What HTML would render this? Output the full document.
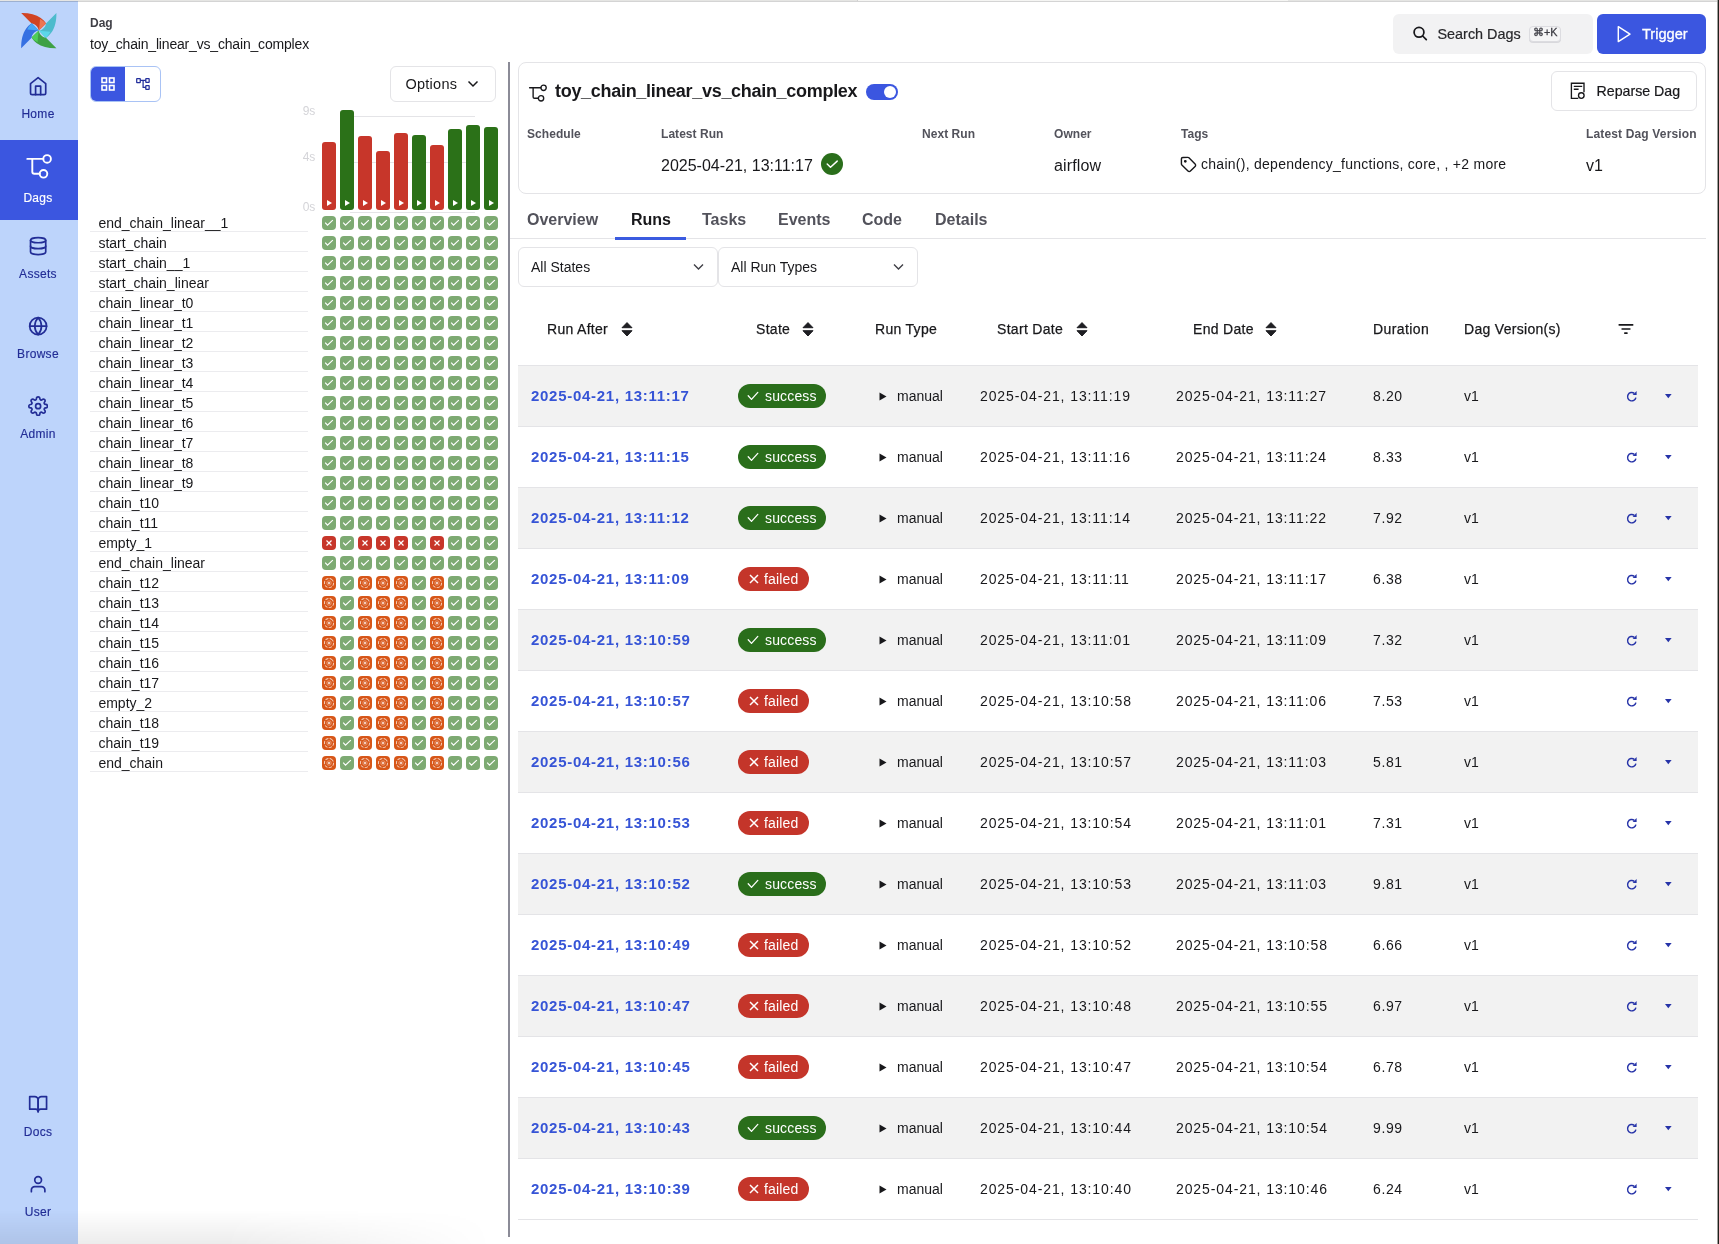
<!DOCTYPE html><html><head><meta charset="utf-8"><title>Airflow</title><style>
*{box-sizing:border-box;margin:0;padding:0}
html,body{width:1719px;height:1244px;overflow:hidden;background:#fff;font-family:"Liberation Sans", sans-serif;color:#18181b}
body{will-change:transform;position:relative}
.a{position:absolute}
.t{position:absolute;white-space:nowrap;line-height:20px;height:20px}
.topbar{position:absolute;left:0;top:0;width:1719px;height:1px;background:#e5e5e3}
.topbar2{position:absolute;left:0;top:1px;width:1719px;height:1px;background:rgba(0,0,0,.17)}
.sb{position:absolute;left:0;top:0;width:78px;height:1244px;background:#bdd4fb}
.nav{position:absolute;left:0;width:78px;height:80px;color:#222d96}
.nav .lbl{position:absolute;left:0;width:76px;text-align:center;font-size:12px;line-height:14px;height:14px;letter-spacing:0.3px;-webkit-text-stroke:0.15px currentColor}
.nav svg{position:absolute}
.nav.act{background:#3b56e0;color:#fff}
.cell{position:absolute;width:14px;height:14px;border-radius:4px}
.s{background:#7daa72}
.f{background:#c7362a}
.u{background:#d75618}
.rowline{position:absolute;left:90px;width:218px;height:1px;background:#ececef}
.tname{position:absolute;left:98.4px;font-size:14px;line-height:20px;height:20px;white-space:nowrap;color:#18181b}
.bar{position:absolute;width:14px;border-radius:3px}
.card{position:absolute;border:1px solid #e4e4e7;border-radius:8px}
.lbl12{position:absolute;font-size:12px;font-weight:bold;color:#52525b;line-height:16px;white-space:nowrap}
.tab{position:absolute;top:210px;font-size:16px;font-weight:bold;color:#52525b;line-height:20px;white-space:nowrap}
.tr{position:absolute;left:518px;width:1180px;height:61px;border-bottom:1px solid #e4e4e7}
.tr.g{background:#f2f2f2}
.td{position:absolute;top:20px;line-height:20px;height:20px;font-size:14px;white-space:nowrap;color:#18181b}
.lnk{color:#3654d6;font-weight:bold;letter-spacing:0.72px;font-size:15px}
.badge{position:absolute;top:18px;height:24px;border-radius:12px;color:#fff;font-size:14px;line-height:24px;white-space:nowrap}
.bs{background:#2a6e1b}
.bf{background:#c4352a}
.th{position:absolute;top:319px;line-height:20px;font-size:14px;white-space:nowrap;color:#18181b;-webkit-text-stroke:0.25px #18181b}
</style></head><body>
<div class="sb"></div>
<svg class="a" style="left:18px;top:10px" width="42" height="42" viewBox="-20.8 -20.6 42 42"><g transform="rotate(0)"><path d="M-17.6 -17.6C-10 -17.8 -3 -16.2 2 -12.6C4.6 -10.7 6.3 -8.8 7.3 -7L0 0C-0.3 -3.5 -3.5 -6.8 -7.2 -7.2Z" fill="#d14423"/><path d="M1.2 -11.6C3.8 -10.2 6 -8.6 7.3 -7L0 0C0.6 -3.5 0.9 -7.5 1.2 -11.6Z" fill="#ee7653"/></g><g transform="rotate(90)"><path d="M-17.6 -17.6C-10 -17.8 -3 -16.2 2 -12.6C4.6 -10.7 6.3 -8.8 7.3 -7L0 0C-0.3 -3.5 -3.5 -6.8 -7.2 -7.2Z" fill="#4dbbcc"/><path d="M1.2 -11.6C3.8 -10.2 6 -8.6 7.3 -7L0 0C0.6 -3.5 0.9 -7.5 1.2 -11.6Z" fill="#5bd7ea"/></g><g transform="rotate(180)"><path d="M-17.6 -17.6C-10 -17.8 -3 -16.2 2 -12.6C4.6 -10.7 6.3 -8.8 7.3 -7L0 0C-0.3 -3.5 -3.5 -6.8 -7.2 -7.2Z" fill="#3ea145"/><path d="M1.2 -11.6C3.8 -10.2 6 -8.6 7.3 -7L0 0C0.6 -3.5 0.9 -7.5 1.2 -11.6Z" fill="#4fcd59"/></g><g transform="rotate(270)"><path d="M-17.6 -17.6C-10 -17.8 -3 -16.2 2 -12.6C4.6 -10.7 6.3 -8.8 7.3 -7L0 0C-0.3 -3.5 -3.5 -6.8 -7.2 -7.2Z" fill="#3670e2"/><path d="M1.2 -11.6C3.8 -10.2 6 -8.6 7.3 -7L0 0C0.6 -3.5 0.9 -7.5 1.2 -11.6Z" fill="#48a7f6"/></g></svg>
<div class="nav" style="top:60px">
<svg style="left:27.85px;top:15.9px" width="20.25" height="20.25" viewBox="0 0 24 24" fill="none" stroke="currentColor" stroke-width="2" stroke-linecap="round" stroke-linejoin="round"><path d="M3 9l9-7 9 7v11a2 2 0 0 1-2 2H5a2 2 0 0 1-2-2z"/><polyline points="9 22 9 12 15 12 15 22"/></svg>
<div class="lbl" style="top:46.5px">Home</div></div>
<div class="nav act" style="top:140px">
<svg style="left:0;top:0" width="78" height="80" viewBox="0 0 78 80" fill="none" stroke="#fff" stroke-width="1.9" stroke-linecap="round"><g transform="translate(27.3 18.9)"><path d="M0 0H16M5 0V12.9a2 2 0 0 0 2 2H12.4"/><circle cx="19.8" cy="0" r="3.8"/><circle cx="16.2" cy="14.9" r="3.8"/></g></svg>
<div class="lbl" style="top:50.5px">Dags</div></div>
<div class="nav" style="top:220px">
<svg style="left:27.85px;top:15.7px" width="20.25" height="20.25" viewBox="0 0 24 24" fill="none" stroke="currentColor" stroke-width="2" stroke-linecap="round" stroke-linejoin="round"><ellipse cx="12" cy="5" rx="9" ry="3"/><path d="M21 12c0 1.66-4 3-9 3s-9-1.34-9-3"/><path d="M3 5v14c0 1.66 4 3 9 3s9-1.34 9-3V5"/></svg>
<div class="lbl" style="top:46.5px">Assets</div></div>
<div class="nav" style="top:300px">
<svg style="left:27.85px;top:15.8px" width="20.25" height="20.25" viewBox="0 0 24 24" fill="none" stroke="currentColor" stroke-width="2" stroke-linecap="round" stroke-linejoin="round"><circle cx="12" cy="12" r="10"/><line x1="2" y1="12" x2="22" y2="12"/><path d="M12 2a15.3 15.3 0 0 1 4 10 15.3 15.3 0 0 1-4 10 15.3 15.3 0 0 1-4-10 15.3 15.3 0 0 1 4-10z"/></svg>
<div class="lbl" style="top:46.5px">Browse</div></div>
<div class="nav" style="top:380px">
<svg style="left:27.85px;top:15.8px" width="20.25" height="20.25" viewBox="0 0 24 24" fill="none" stroke="currentColor" stroke-width="2" stroke-linecap="round" stroke-linejoin="round"><circle cx="12" cy="12" r="3"/><path d="M19.4 15a1.65 1.65 0 0 0 .33 1.82l.06.06a2 2 0 0 1 0 2.83 2 2 0 0 1-2.83 0l-.06-.06a1.65 1.65 0 0 0-1.82-.33 1.65 1.65 0 0 0-1 1.51V21a2 2 0 0 1-2 2 2 2 0 0 1-2-2v-.09A1.65 1.65 0 0 0 9 19.4a1.65 1.65 0 0 0-1.82.33l-.06.06a2 2 0 0 1-2.83 0 2 2 0 0 1 0-2.83l.06-.06a1.65 1.65 0 0 0 .33-1.82 1.65 1.65 0 0 0-1.51-1H3a2 2 0 0 1-2-2 2 2 0 0 1 2-2h.09A1.65 1.65 0 0 0 4.6 9a1.65 1.65 0 0 0-.33-1.82l-.06-.06a2 2 0 0 1 0-2.83 2 2 0 0 1 2.83 0l.06.06a1.65 1.65 0 0 0 1.82.33H9a1.65 1.65 0 0 0 1-1.51V3a2 2 0 0 1 2-2 2 2 0 0 1 2 2v.09a1.65 1.65 0 0 0 1 1.51 1.65 1.65 0 0 0 1.82-.33l.06-.06a2 2 0 0 1 2.83 0 2 2 0 0 1 0 2.83l-.06.06a1.65 1.65 0 0 0-.33 1.82V9a1.65 1.65 0 0 0 1.51 1H21a2 2 0 0 1 2 2 2 2 0 0 1-2 2h-.09a1.65 1.65 0 0 0-1.51 1z"/></svg>
<div class="lbl" style="top:46.5px">Admin</div></div>
<div class="nav" style="top:1084px">
<svg style="left:27.85px;top:9.8px" width="20.25" height="20.25" viewBox="0 0 24 24" fill="none" stroke="currentColor" stroke-width="2" stroke-linecap="round" stroke-linejoin="round"><path d="M2 3h6a4 4 0 0 1 4 4v14a3 3 0 0 0-3-3H2z"/><path d="M22 3h-6a4 4 0 0 0-4 4v14a3 3 0 0 1 3-3h7z"/></svg>
<div class="lbl" style="top:40.7px">Docs</div></div>
<div class="nav" style="top:1164px">
<svg style="left:27.85px;top:9.9px" width="20.25" height="20.25" viewBox="0 0 24 24" fill="none" stroke="currentColor" stroke-width="2" stroke-linecap="round" stroke-linejoin="round"><path d="M20 21v-2a4 4 0 0 0-4-4H8a4 4 0 0 0-4 4v2"/><circle cx="12" cy="7" r="4"/></svg>
<div class="lbl" style="top:40.6px">User</div></div>
<div class="t" style="left:90px;top:13px;font-size:12px;font-weight:bold;color:#3f3f46">Dag</div>
<div class="t" style="left:90px;top:34px;font-size:14px;letter-spacing:-0.18px">toy_chain_linear_vs_chain_complex</div>
<div class="a" style="left:90px;top:66px;width:71px;height:36px;border:1px solid #a9c3f5;border-radius:6px;overflow:hidden">
<div class="a" style="left:-1px;top:-1px;width:35px;height:36px;background:#3b56e0"></div>
<svg class="a" style="left:10px;top:10px" width="14" height="14" viewBox="0 0 14 14" fill="none" stroke="#fff" stroke-width="1.6"><rect x="1" y="1" width="4.5" height="4.5"/><rect x="8.5" y="1" width="4.5" height="4.5"/><rect x="1" y="8.5" width="4.5" height="4.5"/><rect x="8.5" y="8.5" width="4.5" height="4.5"/></svg>
<svg class="a" style="left:45px;top:10px" width="14" height="14" viewBox="0 0 14 14" fill="none" stroke="#232f9c" stroke-width="1.25"><rect x="0.7" y="1.6" width="3.55" height="3.9" rx="0.3"/><rect x="9.8" y="1.6" width="3.35" height="3.7" rx="0.3"/><rect x="9.8" y="8.6" width="3.35" height="3.7" rx="0.3"/><path d="M4.25 3.3H9.8M7.1 3.3V10.45H9.8"/></svg>
</div>
<div class="a" style="left:390px;top:66px;width:106px;height:36px;border:1px solid #e4e4e7;border-radius:6px"></div>
<div class="t" style="left:405.5px;top:74px;font-size:14.5px;letter-spacing:0.25px">Options</div>
<svg class="a" style="left:467px;top:79px" width="12" height="10" viewBox="0 0 12 10" fill="none" stroke="#18181b" stroke-width="1.5"><path d="M1.5 2.5l4.5 4.5 4.5-4.5"/></svg>
<div class="t" style="left:302.7px;top:101px;font-size:12px;color:#d4d4d8">9s</div>
<div class="t" style="left:302.7px;top:147px;font-size:12px;color:#d4d4d8">4s</div>
<div class="t" style="left:302.7px;top:197px;font-size:12px;color:#d4d4d8">0s</div>
<div class="a" style="left:350px;top:116px;width:125px;height:1px;background:#e4e4e7"></div>
<div class="a" style="left:350px;top:162px;width:125px;height:1px;background:#e4e4e7"></div>
<div class="a" style="left:350px;top:212px;width:125px;height:1px;background:#e4e4e7"></div>
<div class="bar" style="left:322px;top:142px;height:68px;background:#c7362a"></div>
<svg class="a" style="left:327px;top:200px" width="5" height="6" viewBox="0 0 5 6"><path d="M0 0L5 3L0 6Z" fill="#fff"/></svg>
<div class="bar" style="left:340px;top:110px;height:100px;background:#2b7118"></div>
<svg class="a" style="left:345px;top:200px" width="5" height="6" viewBox="0 0 5 6"><path d="M0 0L5 3L0 6Z" fill="#fff"/></svg>
<div class="bar" style="left:358px;top:136px;height:74px;background:#c7362a"></div>
<svg class="a" style="left:363px;top:200px" width="5" height="6" viewBox="0 0 5 6"><path d="M0 0L5 3L0 6Z" fill="#fff"/></svg>
<div class="bar" style="left:376px;top:151px;height:59px;background:#c7362a"></div>
<svg class="a" style="left:381px;top:200px" width="5" height="6" viewBox="0 0 5 6"><path d="M0 0L5 3L0 6Z" fill="#fff"/></svg>
<div class="bar" style="left:394px;top:133px;height:77px;background:#c7362a"></div>
<svg class="a" style="left:399px;top:200px" width="5" height="6" viewBox="0 0 5 6"><path d="M0 0L5 3L0 6Z" fill="#fff"/></svg>
<div class="bar" style="left:412px;top:135px;height:75px;background:#2b7118"></div>
<svg class="a" style="left:417px;top:200px" width="5" height="6" viewBox="0 0 5 6"><path d="M0 0L5 3L0 6Z" fill="#fff"/></svg>
<div class="bar" style="left:430px;top:145px;height:65px;background:#c7362a"></div>
<svg class="a" style="left:435px;top:200px" width="5" height="6" viewBox="0 0 5 6"><path d="M0 0L5 3L0 6Z" fill="#fff"/></svg>
<div class="bar" style="left:448px;top:129px;height:81px;background:#2b7118"></div>
<svg class="a" style="left:453px;top:200px" width="5" height="6" viewBox="0 0 5 6"><path d="M0 0L5 3L0 6Z" fill="#fff"/></svg>
<div class="bar" style="left:466px;top:125px;height:85px;background:#2b7118"></div>
<svg class="a" style="left:471px;top:200px" width="5" height="6" viewBox="0 0 5 6"><path d="M0 0L5 3L0 6Z" fill="#fff"/></svg>
<div class="bar" style="left:484px;top:127px;height:83px;background:#2b7118"></div>
<svg class="a" style="left:489px;top:200px" width="5" height="6" viewBox="0 0 5 6"><path d="M0 0L5 3L0 6Z" fill="#fff"/></svg>
<div class="tname" style="top:213px">end_chain_linear__1</div>
<div class="rowline" style="top:231px"></div>
<div class="cell s" style="left:322px;top:216px"><svg width="14" height="14" viewBox="0 0 14 14" fill="none" stroke="#fff" stroke-width="1.15"><path d="M3.2 6.6L5.5 9.1L10.8 4.2"/></svg></div>
<div class="cell s" style="left:340px;top:216px"><svg width="14" height="14" viewBox="0 0 14 14" fill="none" stroke="#fff" stroke-width="1.15"><path d="M3.2 6.6L5.5 9.1L10.8 4.2"/></svg></div>
<div class="cell s" style="left:358px;top:216px"><svg width="14" height="14" viewBox="0 0 14 14" fill="none" stroke="#fff" stroke-width="1.15"><path d="M3.2 6.6L5.5 9.1L10.8 4.2"/></svg></div>
<div class="cell s" style="left:376px;top:216px"><svg width="14" height="14" viewBox="0 0 14 14" fill="none" stroke="#fff" stroke-width="1.15"><path d="M3.2 6.6L5.5 9.1L10.8 4.2"/></svg></div>
<div class="cell s" style="left:394px;top:216px"><svg width="14" height="14" viewBox="0 0 14 14" fill="none" stroke="#fff" stroke-width="1.15"><path d="M3.2 6.6L5.5 9.1L10.8 4.2"/></svg></div>
<div class="cell s" style="left:412px;top:216px"><svg width="14" height="14" viewBox="0 0 14 14" fill="none" stroke="#fff" stroke-width="1.15"><path d="M3.2 6.6L5.5 9.1L10.8 4.2"/></svg></div>
<div class="cell s" style="left:430px;top:216px"><svg width="14" height="14" viewBox="0 0 14 14" fill="none" stroke="#fff" stroke-width="1.15"><path d="M3.2 6.6L5.5 9.1L10.8 4.2"/></svg></div>
<div class="cell s" style="left:448px;top:216px"><svg width="14" height="14" viewBox="0 0 14 14" fill="none" stroke="#fff" stroke-width="1.15"><path d="M3.2 6.6L5.5 9.1L10.8 4.2"/></svg></div>
<div class="cell s" style="left:466px;top:216px"><svg width="14" height="14" viewBox="0 0 14 14" fill="none" stroke="#fff" stroke-width="1.15"><path d="M3.2 6.6L5.5 9.1L10.8 4.2"/></svg></div>
<div class="cell s" style="left:484px;top:216px"><svg width="14" height="14" viewBox="0 0 14 14" fill="none" stroke="#fff" stroke-width="1.15"><path d="M3.2 6.6L5.5 9.1L10.8 4.2"/></svg></div>
<div class="tname" style="top:233px">start_chain</div>
<div class="rowline" style="top:251px"></div>
<div class="cell s" style="left:322px;top:236px"><svg width="14" height="14" viewBox="0 0 14 14" fill="none" stroke="#fff" stroke-width="1.15"><path d="M3.2 6.6L5.5 9.1L10.8 4.2"/></svg></div>
<div class="cell s" style="left:340px;top:236px"><svg width="14" height="14" viewBox="0 0 14 14" fill="none" stroke="#fff" stroke-width="1.15"><path d="M3.2 6.6L5.5 9.1L10.8 4.2"/></svg></div>
<div class="cell s" style="left:358px;top:236px"><svg width="14" height="14" viewBox="0 0 14 14" fill="none" stroke="#fff" stroke-width="1.15"><path d="M3.2 6.6L5.5 9.1L10.8 4.2"/></svg></div>
<div class="cell s" style="left:376px;top:236px"><svg width="14" height="14" viewBox="0 0 14 14" fill="none" stroke="#fff" stroke-width="1.15"><path d="M3.2 6.6L5.5 9.1L10.8 4.2"/></svg></div>
<div class="cell s" style="left:394px;top:236px"><svg width="14" height="14" viewBox="0 0 14 14" fill="none" stroke="#fff" stroke-width="1.15"><path d="M3.2 6.6L5.5 9.1L10.8 4.2"/></svg></div>
<div class="cell s" style="left:412px;top:236px"><svg width="14" height="14" viewBox="0 0 14 14" fill="none" stroke="#fff" stroke-width="1.15"><path d="M3.2 6.6L5.5 9.1L10.8 4.2"/></svg></div>
<div class="cell s" style="left:430px;top:236px"><svg width="14" height="14" viewBox="0 0 14 14" fill="none" stroke="#fff" stroke-width="1.15"><path d="M3.2 6.6L5.5 9.1L10.8 4.2"/></svg></div>
<div class="cell s" style="left:448px;top:236px"><svg width="14" height="14" viewBox="0 0 14 14" fill="none" stroke="#fff" stroke-width="1.15"><path d="M3.2 6.6L5.5 9.1L10.8 4.2"/></svg></div>
<div class="cell s" style="left:466px;top:236px"><svg width="14" height="14" viewBox="0 0 14 14" fill="none" stroke="#fff" stroke-width="1.15"><path d="M3.2 6.6L5.5 9.1L10.8 4.2"/></svg></div>
<div class="cell s" style="left:484px;top:236px"><svg width="14" height="14" viewBox="0 0 14 14" fill="none" stroke="#fff" stroke-width="1.15"><path d="M3.2 6.6L5.5 9.1L10.8 4.2"/></svg></div>
<div class="tname" style="top:253px">start_chain__1</div>
<div class="rowline" style="top:271px"></div>
<div class="cell s" style="left:322px;top:256px"><svg width="14" height="14" viewBox="0 0 14 14" fill="none" stroke="#fff" stroke-width="1.15"><path d="M3.2 6.6L5.5 9.1L10.8 4.2"/></svg></div>
<div class="cell s" style="left:340px;top:256px"><svg width="14" height="14" viewBox="0 0 14 14" fill="none" stroke="#fff" stroke-width="1.15"><path d="M3.2 6.6L5.5 9.1L10.8 4.2"/></svg></div>
<div class="cell s" style="left:358px;top:256px"><svg width="14" height="14" viewBox="0 0 14 14" fill="none" stroke="#fff" stroke-width="1.15"><path d="M3.2 6.6L5.5 9.1L10.8 4.2"/></svg></div>
<div class="cell s" style="left:376px;top:256px"><svg width="14" height="14" viewBox="0 0 14 14" fill="none" stroke="#fff" stroke-width="1.15"><path d="M3.2 6.6L5.5 9.1L10.8 4.2"/></svg></div>
<div class="cell s" style="left:394px;top:256px"><svg width="14" height="14" viewBox="0 0 14 14" fill="none" stroke="#fff" stroke-width="1.15"><path d="M3.2 6.6L5.5 9.1L10.8 4.2"/></svg></div>
<div class="cell s" style="left:412px;top:256px"><svg width="14" height="14" viewBox="0 0 14 14" fill="none" stroke="#fff" stroke-width="1.15"><path d="M3.2 6.6L5.5 9.1L10.8 4.2"/></svg></div>
<div class="cell s" style="left:430px;top:256px"><svg width="14" height="14" viewBox="0 0 14 14" fill="none" stroke="#fff" stroke-width="1.15"><path d="M3.2 6.6L5.5 9.1L10.8 4.2"/></svg></div>
<div class="cell s" style="left:448px;top:256px"><svg width="14" height="14" viewBox="0 0 14 14" fill="none" stroke="#fff" stroke-width="1.15"><path d="M3.2 6.6L5.5 9.1L10.8 4.2"/></svg></div>
<div class="cell s" style="left:466px;top:256px"><svg width="14" height="14" viewBox="0 0 14 14" fill="none" stroke="#fff" stroke-width="1.15"><path d="M3.2 6.6L5.5 9.1L10.8 4.2"/></svg></div>
<div class="cell s" style="left:484px;top:256px"><svg width="14" height="14" viewBox="0 0 14 14" fill="none" stroke="#fff" stroke-width="1.15"><path d="M3.2 6.6L5.5 9.1L10.8 4.2"/></svg></div>
<div class="tname" style="top:273px">start_chain_linear</div>
<div class="rowline" style="top:291px"></div>
<div class="cell s" style="left:322px;top:276px"><svg width="14" height="14" viewBox="0 0 14 14" fill="none" stroke="#fff" stroke-width="1.15"><path d="M3.2 6.6L5.5 9.1L10.8 4.2"/></svg></div>
<div class="cell s" style="left:340px;top:276px"><svg width="14" height="14" viewBox="0 0 14 14" fill="none" stroke="#fff" stroke-width="1.15"><path d="M3.2 6.6L5.5 9.1L10.8 4.2"/></svg></div>
<div class="cell s" style="left:358px;top:276px"><svg width="14" height="14" viewBox="0 0 14 14" fill="none" stroke="#fff" stroke-width="1.15"><path d="M3.2 6.6L5.5 9.1L10.8 4.2"/></svg></div>
<div class="cell s" style="left:376px;top:276px"><svg width="14" height="14" viewBox="0 0 14 14" fill="none" stroke="#fff" stroke-width="1.15"><path d="M3.2 6.6L5.5 9.1L10.8 4.2"/></svg></div>
<div class="cell s" style="left:394px;top:276px"><svg width="14" height="14" viewBox="0 0 14 14" fill="none" stroke="#fff" stroke-width="1.15"><path d="M3.2 6.6L5.5 9.1L10.8 4.2"/></svg></div>
<div class="cell s" style="left:412px;top:276px"><svg width="14" height="14" viewBox="0 0 14 14" fill="none" stroke="#fff" stroke-width="1.15"><path d="M3.2 6.6L5.5 9.1L10.8 4.2"/></svg></div>
<div class="cell s" style="left:430px;top:276px"><svg width="14" height="14" viewBox="0 0 14 14" fill="none" stroke="#fff" stroke-width="1.15"><path d="M3.2 6.6L5.5 9.1L10.8 4.2"/></svg></div>
<div class="cell s" style="left:448px;top:276px"><svg width="14" height="14" viewBox="0 0 14 14" fill="none" stroke="#fff" stroke-width="1.15"><path d="M3.2 6.6L5.5 9.1L10.8 4.2"/></svg></div>
<div class="cell s" style="left:466px;top:276px"><svg width="14" height="14" viewBox="0 0 14 14" fill="none" stroke="#fff" stroke-width="1.15"><path d="M3.2 6.6L5.5 9.1L10.8 4.2"/></svg></div>
<div class="cell s" style="left:484px;top:276px"><svg width="14" height="14" viewBox="0 0 14 14" fill="none" stroke="#fff" stroke-width="1.15"><path d="M3.2 6.6L5.5 9.1L10.8 4.2"/></svg></div>
<div class="tname" style="top:293px">chain_linear_t0</div>
<div class="rowline" style="top:311px"></div>
<div class="cell s" style="left:322px;top:296px"><svg width="14" height="14" viewBox="0 0 14 14" fill="none" stroke="#fff" stroke-width="1.15"><path d="M3.2 6.6L5.5 9.1L10.8 4.2"/></svg></div>
<div class="cell s" style="left:340px;top:296px"><svg width="14" height="14" viewBox="0 0 14 14" fill="none" stroke="#fff" stroke-width="1.15"><path d="M3.2 6.6L5.5 9.1L10.8 4.2"/></svg></div>
<div class="cell s" style="left:358px;top:296px"><svg width="14" height="14" viewBox="0 0 14 14" fill="none" stroke="#fff" stroke-width="1.15"><path d="M3.2 6.6L5.5 9.1L10.8 4.2"/></svg></div>
<div class="cell s" style="left:376px;top:296px"><svg width="14" height="14" viewBox="0 0 14 14" fill="none" stroke="#fff" stroke-width="1.15"><path d="M3.2 6.6L5.5 9.1L10.8 4.2"/></svg></div>
<div class="cell s" style="left:394px;top:296px"><svg width="14" height="14" viewBox="0 0 14 14" fill="none" stroke="#fff" stroke-width="1.15"><path d="M3.2 6.6L5.5 9.1L10.8 4.2"/></svg></div>
<div class="cell s" style="left:412px;top:296px"><svg width="14" height="14" viewBox="0 0 14 14" fill="none" stroke="#fff" stroke-width="1.15"><path d="M3.2 6.6L5.5 9.1L10.8 4.2"/></svg></div>
<div class="cell s" style="left:430px;top:296px"><svg width="14" height="14" viewBox="0 0 14 14" fill="none" stroke="#fff" stroke-width="1.15"><path d="M3.2 6.6L5.5 9.1L10.8 4.2"/></svg></div>
<div class="cell s" style="left:448px;top:296px"><svg width="14" height="14" viewBox="0 0 14 14" fill="none" stroke="#fff" stroke-width="1.15"><path d="M3.2 6.6L5.5 9.1L10.8 4.2"/></svg></div>
<div class="cell s" style="left:466px;top:296px"><svg width="14" height="14" viewBox="0 0 14 14" fill="none" stroke="#fff" stroke-width="1.15"><path d="M3.2 6.6L5.5 9.1L10.8 4.2"/></svg></div>
<div class="cell s" style="left:484px;top:296px"><svg width="14" height="14" viewBox="0 0 14 14" fill="none" stroke="#fff" stroke-width="1.15"><path d="M3.2 6.6L5.5 9.1L10.8 4.2"/></svg></div>
<div class="tname" style="top:313px">chain_linear_t1</div>
<div class="rowline" style="top:331px"></div>
<div class="cell s" style="left:322px;top:316px"><svg width="14" height="14" viewBox="0 0 14 14" fill="none" stroke="#fff" stroke-width="1.15"><path d="M3.2 6.6L5.5 9.1L10.8 4.2"/></svg></div>
<div class="cell s" style="left:340px;top:316px"><svg width="14" height="14" viewBox="0 0 14 14" fill="none" stroke="#fff" stroke-width="1.15"><path d="M3.2 6.6L5.5 9.1L10.8 4.2"/></svg></div>
<div class="cell s" style="left:358px;top:316px"><svg width="14" height="14" viewBox="0 0 14 14" fill="none" stroke="#fff" stroke-width="1.15"><path d="M3.2 6.6L5.5 9.1L10.8 4.2"/></svg></div>
<div class="cell s" style="left:376px;top:316px"><svg width="14" height="14" viewBox="0 0 14 14" fill="none" stroke="#fff" stroke-width="1.15"><path d="M3.2 6.6L5.5 9.1L10.8 4.2"/></svg></div>
<div class="cell s" style="left:394px;top:316px"><svg width="14" height="14" viewBox="0 0 14 14" fill="none" stroke="#fff" stroke-width="1.15"><path d="M3.2 6.6L5.5 9.1L10.8 4.2"/></svg></div>
<div class="cell s" style="left:412px;top:316px"><svg width="14" height="14" viewBox="0 0 14 14" fill="none" stroke="#fff" stroke-width="1.15"><path d="M3.2 6.6L5.5 9.1L10.8 4.2"/></svg></div>
<div class="cell s" style="left:430px;top:316px"><svg width="14" height="14" viewBox="0 0 14 14" fill="none" stroke="#fff" stroke-width="1.15"><path d="M3.2 6.6L5.5 9.1L10.8 4.2"/></svg></div>
<div class="cell s" style="left:448px;top:316px"><svg width="14" height="14" viewBox="0 0 14 14" fill="none" stroke="#fff" stroke-width="1.15"><path d="M3.2 6.6L5.5 9.1L10.8 4.2"/></svg></div>
<div class="cell s" style="left:466px;top:316px"><svg width="14" height="14" viewBox="0 0 14 14" fill="none" stroke="#fff" stroke-width="1.15"><path d="M3.2 6.6L5.5 9.1L10.8 4.2"/></svg></div>
<div class="cell s" style="left:484px;top:316px"><svg width="14" height="14" viewBox="0 0 14 14" fill="none" stroke="#fff" stroke-width="1.15"><path d="M3.2 6.6L5.5 9.1L10.8 4.2"/></svg></div>
<div class="tname" style="top:333px">chain_linear_t2</div>
<div class="rowline" style="top:351px"></div>
<div class="cell s" style="left:322px;top:336px"><svg width="14" height="14" viewBox="0 0 14 14" fill="none" stroke="#fff" stroke-width="1.15"><path d="M3.2 6.6L5.5 9.1L10.8 4.2"/></svg></div>
<div class="cell s" style="left:340px;top:336px"><svg width="14" height="14" viewBox="0 0 14 14" fill="none" stroke="#fff" stroke-width="1.15"><path d="M3.2 6.6L5.5 9.1L10.8 4.2"/></svg></div>
<div class="cell s" style="left:358px;top:336px"><svg width="14" height="14" viewBox="0 0 14 14" fill="none" stroke="#fff" stroke-width="1.15"><path d="M3.2 6.6L5.5 9.1L10.8 4.2"/></svg></div>
<div class="cell s" style="left:376px;top:336px"><svg width="14" height="14" viewBox="0 0 14 14" fill="none" stroke="#fff" stroke-width="1.15"><path d="M3.2 6.6L5.5 9.1L10.8 4.2"/></svg></div>
<div class="cell s" style="left:394px;top:336px"><svg width="14" height="14" viewBox="0 0 14 14" fill="none" stroke="#fff" stroke-width="1.15"><path d="M3.2 6.6L5.5 9.1L10.8 4.2"/></svg></div>
<div class="cell s" style="left:412px;top:336px"><svg width="14" height="14" viewBox="0 0 14 14" fill="none" stroke="#fff" stroke-width="1.15"><path d="M3.2 6.6L5.5 9.1L10.8 4.2"/></svg></div>
<div class="cell s" style="left:430px;top:336px"><svg width="14" height="14" viewBox="0 0 14 14" fill="none" stroke="#fff" stroke-width="1.15"><path d="M3.2 6.6L5.5 9.1L10.8 4.2"/></svg></div>
<div class="cell s" style="left:448px;top:336px"><svg width="14" height="14" viewBox="0 0 14 14" fill="none" stroke="#fff" stroke-width="1.15"><path d="M3.2 6.6L5.5 9.1L10.8 4.2"/></svg></div>
<div class="cell s" style="left:466px;top:336px"><svg width="14" height="14" viewBox="0 0 14 14" fill="none" stroke="#fff" stroke-width="1.15"><path d="M3.2 6.6L5.5 9.1L10.8 4.2"/></svg></div>
<div class="cell s" style="left:484px;top:336px"><svg width="14" height="14" viewBox="0 0 14 14" fill="none" stroke="#fff" stroke-width="1.15"><path d="M3.2 6.6L5.5 9.1L10.8 4.2"/></svg></div>
<div class="tname" style="top:353px">chain_linear_t3</div>
<div class="rowline" style="top:371px"></div>
<div class="cell s" style="left:322px;top:356px"><svg width="14" height="14" viewBox="0 0 14 14" fill="none" stroke="#fff" stroke-width="1.15"><path d="M3.2 6.6L5.5 9.1L10.8 4.2"/></svg></div>
<div class="cell s" style="left:340px;top:356px"><svg width="14" height="14" viewBox="0 0 14 14" fill="none" stroke="#fff" stroke-width="1.15"><path d="M3.2 6.6L5.5 9.1L10.8 4.2"/></svg></div>
<div class="cell s" style="left:358px;top:356px"><svg width="14" height="14" viewBox="0 0 14 14" fill="none" stroke="#fff" stroke-width="1.15"><path d="M3.2 6.6L5.5 9.1L10.8 4.2"/></svg></div>
<div class="cell s" style="left:376px;top:356px"><svg width="14" height="14" viewBox="0 0 14 14" fill="none" stroke="#fff" stroke-width="1.15"><path d="M3.2 6.6L5.5 9.1L10.8 4.2"/></svg></div>
<div class="cell s" style="left:394px;top:356px"><svg width="14" height="14" viewBox="0 0 14 14" fill="none" stroke="#fff" stroke-width="1.15"><path d="M3.2 6.6L5.5 9.1L10.8 4.2"/></svg></div>
<div class="cell s" style="left:412px;top:356px"><svg width="14" height="14" viewBox="0 0 14 14" fill="none" stroke="#fff" stroke-width="1.15"><path d="M3.2 6.6L5.5 9.1L10.8 4.2"/></svg></div>
<div class="cell s" style="left:430px;top:356px"><svg width="14" height="14" viewBox="0 0 14 14" fill="none" stroke="#fff" stroke-width="1.15"><path d="M3.2 6.6L5.5 9.1L10.8 4.2"/></svg></div>
<div class="cell s" style="left:448px;top:356px"><svg width="14" height="14" viewBox="0 0 14 14" fill="none" stroke="#fff" stroke-width="1.15"><path d="M3.2 6.6L5.5 9.1L10.8 4.2"/></svg></div>
<div class="cell s" style="left:466px;top:356px"><svg width="14" height="14" viewBox="0 0 14 14" fill="none" stroke="#fff" stroke-width="1.15"><path d="M3.2 6.6L5.5 9.1L10.8 4.2"/></svg></div>
<div class="cell s" style="left:484px;top:356px"><svg width="14" height="14" viewBox="0 0 14 14" fill="none" stroke="#fff" stroke-width="1.15"><path d="M3.2 6.6L5.5 9.1L10.8 4.2"/></svg></div>
<div class="tname" style="top:373px">chain_linear_t4</div>
<div class="rowline" style="top:391px"></div>
<div class="cell s" style="left:322px;top:376px"><svg width="14" height="14" viewBox="0 0 14 14" fill="none" stroke="#fff" stroke-width="1.15"><path d="M3.2 6.6L5.5 9.1L10.8 4.2"/></svg></div>
<div class="cell s" style="left:340px;top:376px"><svg width="14" height="14" viewBox="0 0 14 14" fill="none" stroke="#fff" stroke-width="1.15"><path d="M3.2 6.6L5.5 9.1L10.8 4.2"/></svg></div>
<div class="cell s" style="left:358px;top:376px"><svg width="14" height="14" viewBox="0 0 14 14" fill="none" stroke="#fff" stroke-width="1.15"><path d="M3.2 6.6L5.5 9.1L10.8 4.2"/></svg></div>
<div class="cell s" style="left:376px;top:376px"><svg width="14" height="14" viewBox="0 0 14 14" fill="none" stroke="#fff" stroke-width="1.15"><path d="M3.2 6.6L5.5 9.1L10.8 4.2"/></svg></div>
<div class="cell s" style="left:394px;top:376px"><svg width="14" height="14" viewBox="0 0 14 14" fill="none" stroke="#fff" stroke-width="1.15"><path d="M3.2 6.6L5.5 9.1L10.8 4.2"/></svg></div>
<div class="cell s" style="left:412px;top:376px"><svg width="14" height="14" viewBox="0 0 14 14" fill="none" stroke="#fff" stroke-width="1.15"><path d="M3.2 6.6L5.5 9.1L10.8 4.2"/></svg></div>
<div class="cell s" style="left:430px;top:376px"><svg width="14" height="14" viewBox="0 0 14 14" fill="none" stroke="#fff" stroke-width="1.15"><path d="M3.2 6.6L5.5 9.1L10.8 4.2"/></svg></div>
<div class="cell s" style="left:448px;top:376px"><svg width="14" height="14" viewBox="0 0 14 14" fill="none" stroke="#fff" stroke-width="1.15"><path d="M3.2 6.6L5.5 9.1L10.8 4.2"/></svg></div>
<div class="cell s" style="left:466px;top:376px"><svg width="14" height="14" viewBox="0 0 14 14" fill="none" stroke="#fff" stroke-width="1.15"><path d="M3.2 6.6L5.5 9.1L10.8 4.2"/></svg></div>
<div class="cell s" style="left:484px;top:376px"><svg width="14" height="14" viewBox="0 0 14 14" fill="none" stroke="#fff" stroke-width="1.15"><path d="M3.2 6.6L5.5 9.1L10.8 4.2"/></svg></div>
<div class="tname" style="top:393px">chain_linear_t5</div>
<div class="rowline" style="top:411px"></div>
<div class="cell s" style="left:322px;top:396px"><svg width="14" height="14" viewBox="0 0 14 14" fill="none" stroke="#fff" stroke-width="1.15"><path d="M3.2 6.6L5.5 9.1L10.8 4.2"/></svg></div>
<div class="cell s" style="left:340px;top:396px"><svg width="14" height="14" viewBox="0 0 14 14" fill="none" stroke="#fff" stroke-width="1.15"><path d="M3.2 6.6L5.5 9.1L10.8 4.2"/></svg></div>
<div class="cell s" style="left:358px;top:396px"><svg width="14" height="14" viewBox="0 0 14 14" fill="none" stroke="#fff" stroke-width="1.15"><path d="M3.2 6.6L5.5 9.1L10.8 4.2"/></svg></div>
<div class="cell s" style="left:376px;top:396px"><svg width="14" height="14" viewBox="0 0 14 14" fill="none" stroke="#fff" stroke-width="1.15"><path d="M3.2 6.6L5.5 9.1L10.8 4.2"/></svg></div>
<div class="cell s" style="left:394px;top:396px"><svg width="14" height="14" viewBox="0 0 14 14" fill="none" stroke="#fff" stroke-width="1.15"><path d="M3.2 6.6L5.5 9.1L10.8 4.2"/></svg></div>
<div class="cell s" style="left:412px;top:396px"><svg width="14" height="14" viewBox="0 0 14 14" fill="none" stroke="#fff" stroke-width="1.15"><path d="M3.2 6.6L5.5 9.1L10.8 4.2"/></svg></div>
<div class="cell s" style="left:430px;top:396px"><svg width="14" height="14" viewBox="0 0 14 14" fill="none" stroke="#fff" stroke-width="1.15"><path d="M3.2 6.6L5.5 9.1L10.8 4.2"/></svg></div>
<div class="cell s" style="left:448px;top:396px"><svg width="14" height="14" viewBox="0 0 14 14" fill="none" stroke="#fff" stroke-width="1.15"><path d="M3.2 6.6L5.5 9.1L10.8 4.2"/></svg></div>
<div class="cell s" style="left:466px;top:396px"><svg width="14" height="14" viewBox="0 0 14 14" fill="none" stroke="#fff" stroke-width="1.15"><path d="M3.2 6.6L5.5 9.1L10.8 4.2"/></svg></div>
<div class="cell s" style="left:484px;top:396px"><svg width="14" height="14" viewBox="0 0 14 14" fill="none" stroke="#fff" stroke-width="1.15"><path d="M3.2 6.6L5.5 9.1L10.8 4.2"/></svg></div>
<div class="tname" style="top:413px">chain_linear_t6</div>
<div class="rowline" style="top:431px"></div>
<div class="cell s" style="left:322px;top:416px"><svg width="14" height="14" viewBox="0 0 14 14" fill="none" stroke="#fff" stroke-width="1.15"><path d="M3.2 6.6L5.5 9.1L10.8 4.2"/></svg></div>
<div class="cell s" style="left:340px;top:416px"><svg width="14" height="14" viewBox="0 0 14 14" fill="none" stroke="#fff" stroke-width="1.15"><path d="M3.2 6.6L5.5 9.1L10.8 4.2"/></svg></div>
<div class="cell s" style="left:358px;top:416px"><svg width="14" height="14" viewBox="0 0 14 14" fill="none" stroke="#fff" stroke-width="1.15"><path d="M3.2 6.6L5.5 9.1L10.8 4.2"/></svg></div>
<div class="cell s" style="left:376px;top:416px"><svg width="14" height="14" viewBox="0 0 14 14" fill="none" stroke="#fff" stroke-width="1.15"><path d="M3.2 6.6L5.5 9.1L10.8 4.2"/></svg></div>
<div class="cell s" style="left:394px;top:416px"><svg width="14" height="14" viewBox="0 0 14 14" fill="none" stroke="#fff" stroke-width="1.15"><path d="M3.2 6.6L5.5 9.1L10.8 4.2"/></svg></div>
<div class="cell s" style="left:412px;top:416px"><svg width="14" height="14" viewBox="0 0 14 14" fill="none" stroke="#fff" stroke-width="1.15"><path d="M3.2 6.6L5.5 9.1L10.8 4.2"/></svg></div>
<div class="cell s" style="left:430px;top:416px"><svg width="14" height="14" viewBox="0 0 14 14" fill="none" stroke="#fff" stroke-width="1.15"><path d="M3.2 6.6L5.5 9.1L10.8 4.2"/></svg></div>
<div class="cell s" style="left:448px;top:416px"><svg width="14" height="14" viewBox="0 0 14 14" fill="none" stroke="#fff" stroke-width="1.15"><path d="M3.2 6.6L5.5 9.1L10.8 4.2"/></svg></div>
<div class="cell s" style="left:466px;top:416px"><svg width="14" height="14" viewBox="0 0 14 14" fill="none" stroke="#fff" stroke-width="1.15"><path d="M3.2 6.6L5.5 9.1L10.8 4.2"/></svg></div>
<div class="cell s" style="left:484px;top:416px"><svg width="14" height="14" viewBox="0 0 14 14" fill="none" stroke="#fff" stroke-width="1.15"><path d="M3.2 6.6L5.5 9.1L10.8 4.2"/></svg></div>
<div class="tname" style="top:433px">chain_linear_t7</div>
<div class="rowline" style="top:451px"></div>
<div class="cell s" style="left:322px;top:436px"><svg width="14" height="14" viewBox="0 0 14 14" fill="none" stroke="#fff" stroke-width="1.15"><path d="M3.2 6.6L5.5 9.1L10.8 4.2"/></svg></div>
<div class="cell s" style="left:340px;top:436px"><svg width="14" height="14" viewBox="0 0 14 14" fill="none" stroke="#fff" stroke-width="1.15"><path d="M3.2 6.6L5.5 9.1L10.8 4.2"/></svg></div>
<div class="cell s" style="left:358px;top:436px"><svg width="14" height="14" viewBox="0 0 14 14" fill="none" stroke="#fff" stroke-width="1.15"><path d="M3.2 6.6L5.5 9.1L10.8 4.2"/></svg></div>
<div class="cell s" style="left:376px;top:436px"><svg width="14" height="14" viewBox="0 0 14 14" fill="none" stroke="#fff" stroke-width="1.15"><path d="M3.2 6.6L5.5 9.1L10.8 4.2"/></svg></div>
<div class="cell s" style="left:394px;top:436px"><svg width="14" height="14" viewBox="0 0 14 14" fill="none" stroke="#fff" stroke-width="1.15"><path d="M3.2 6.6L5.5 9.1L10.8 4.2"/></svg></div>
<div class="cell s" style="left:412px;top:436px"><svg width="14" height="14" viewBox="0 0 14 14" fill="none" stroke="#fff" stroke-width="1.15"><path d="M3.2 6.6L5.5 9.1L10.8 4.2"/></svg></div>
<div class="cell s" style="left:430px;top:436px"><svg width="14" height="14" viewBox="0 0 14 14" fill="none" stroke="#fff" stroke-width="1.15"><path d="M3.2 6.6L5.5 9.1L10.8 4.2"/></svg></div>
<div class="cell s" style="left:448px;top:436px"><svg width="14" height="14" viewBox="0 0 14 14" fill="none" stroke="#fff" stroke-width="1.15"><path d="M3.2 6.6L5.5 9.1L10.8 4.2"/></svg></div>
<div class="cell s" style="left:466px;top:436px"><svg width="14" height="14" viewBox="0 0 14 14" fill="none" stroke="#fff" stroke-width="1.15"><path d="M3.2 6.6L5.5 9.1L10.8 4.2"/></svg></div>
<div class="cell s" style="left:484px;top:436px"><svg width="14" height="14" viewBox="0 0 14 14" fill="none" stroke="#fff" stroke-width="1.15"><path d="M3.2 6.6L5.5 9.1L10.8 4.2"/></svg></div>
<div class="tname" style="top:453px">chain_linear_t8</div>
<div class="rowline" style="top:471px"></div>
<div class="cell s" style="left:322px;top:456px"><svg width="14" height="14" viewBox="0 0 14 14" fill="none" stroke="#fff" stroke-width="1.15"><path d="M3.2 6.6L5.5 9.1L10.8 4.2"/></svg></div>
<div class="cell s" style="left:340px;top:456px"><svg width="14" height="14" viewBox="0 0 14 14" fill="none" stroke="#fff" stroke-width="1.15"><path d="M3.2 6.6L5.5 9.1L10.8 4.2"/></svg></div>
<div class="cell s" style="left:358px;top:456px"><svg width="14" height="14" viewBox="0 0 14 14" fill="none" stroke="#fff" stroke-width="1.15"><path d="M3.2 6.6L5.5 9.1L10.8 4.2"/></svg></div>
<div class="cell s" style="left:376px;top:456px"><svg width="14" height="14" viewBox="0 0 14 14" fill="none" stroke="#fff" stroke-width="1.15"><path d="M3.2 6.6L5.5 9.1L10.8 4.2"/></svg></div>
<div class="cell s" style="left:394px;top:456px"><svg width="14" height="14" viewBox="0 0 14 14" fill="none" stroke="#fff" stroke-width="1.15"><path d="M3.2 6.6L5.5 9.1L10.8 4.2"/></svg></div>
<div class="cell s" style="left:412px;top:456px"><svg width="14" height="14" viewBox="0 0 14 14" fill="none" stroke="#fff" stroke-width="1.15"><path d="M3.2 6.6L5.5 9.1L10.8 4.2"/></svg></div>
<div class="cell s" style="left:430px;top:456px"><svg width="14" height="14" viewBox="0 0 14 14" fill="none" stroke="#fff" stroke-width="1.15"><path d="M3.2 6.6L5.5 9.1L10.8 4.2"/></svg></div>
<div class="cell s" style="left:448px;top:456px"><svg width="14" height="14" viewBox="0 0 14 14" fill="none" stroke="#fff" stroke-width="1.15"><path d="M3.2 6.6L5.5 9.1L10.8 4.2"/></svg></div>
<div class="cell s" style="left:466px;top:456px"><svg width="14" height="14" viewBox="0 0 14 14" fill="none" stroke="#fff" stroke-width="1.15"><path d="M3.2 6.6L5.5 9.1L10.8 4.2"/></svg></div>
<div class="cell s" style="left:484px;top:456px"><svg width="14" height="14" viewBox="0 0 14 14" fill="none" stroke="#fff" stroke-width="1.15"><path d="M3.2 6.6L5.5 9.1L10.8 4.2"/></svg></div>
<div class="tname" style="top:473px">chain_linear_t9</div>
<div class="rowline" style="top:491px"></div>
<div class="cell s" style="left:322px;top:476px"><svg width="14" height="14" viewBox="0 0 14 14" fill="none" stroke="#fff" stroke-width="1.15"><path d="M3.2 6.6L5.5 9.1L10.8 4.2"/></svg></div>
<div class="cell s" style="left:340px;top:476px"><svg width="14" height="14" viewBox="0 0 14 14" fill="none" stroke="#fff" stroke-width="1.15"><path d="M3.2 6.6L5.5 9.1L10.8 4.2"/></svg></div>
<div class="cell s" style="left:358px;top:476px"><svg width="14" height="14" viewBox="0 0 14 14" fill="none" stroke="#fff" stroke-width="1.15"><path d="M3.2 6.6L5.5 9.1L10.8 4.2"/></svg></div>
<div class="cell s" style="left:376px;top:476px"><svg width="14" height="14" viewBox="0 0 14 14" fill="none" stroke="#fff" stroke-width="1.15"><path d="M3.2 6.6L5.5 9.1L10.8 4.2"/></svg></div>
<div class="cell s" style="left:394px;top:476px"><svg width="14" height="14" viewBox="0 0 14 14" fill="none" stroke="#fff" stroke-width="1.15"><path d="M3.2 6.6L5.5 9.1L10.8 4.2"/></svg></div>
<div class="cell s" style="left:412px;top:476px"><svg width="14" height="14" viewBox="0 0 14 14" fill="none" stroke="#fff" stroke-width="1.15"><path d="M3.2 6.6L5.5 9.1L10.8 4.2"/></svg></div>
<div class="cell s" style="left:430px;top:476px"><svg width="14" height="14" viewBox="0 0 14 14" fill="none" stroke="#fff" stroke-width="1.15"><path d="M3.2 6.6L5.5 9.1L10.8 4.2"/></svg></div>
<div class="cell s" style="left:448px;top:476px"><svg width="14" height="14" viewBox="0 0 14 14" fill="none" stroke="#fff" stroke-width="1.15"><path d="M3.2 6.6L5.5 9.1L10.8 4.2"/></svg></div>
<div class="cell s" style="left:466px;top:476px"><svg width="14" height="14" viewBox="0 0 14 14" fill="none" stroke="#fff" stroke-width="1.15"><path d="M3.2 6.6L5.5 9.1L10.8 4.2"/></svg></div>
<div class="cell s" style="left:484px;top:476px"><svg width="14" height="14" viewBox="0 0 14 14" fill="none" stroke="#fff" stroke-width="1.15"><path d="M3.2 6.6L5.5 9.1L10.8 4.2"/></svg></div>
<div class="tname" style="top:493px">chain_t10</div>
<div class="rowline" style="top:511px"></div>
<div class="cell s" style="left:322px;top:496px"><svg width="14" height="14" viewBox="0 0 14 14" fill="none" stroke="#fff" stroke-width="1.15"><path d="M3.2 6.6L5.5 9.1L10.8 4.2"/></svg></div>
<div class="cell s" style="left:340px;top:496px"><svg width="14" height="14" viewBox="0 0 14 14" fill="none" stroke="#fff" stroke-width="1.15"><path d="M3.2 6.6L5.5 9.1L10.8 4.2"/></svg></div>
<div class="cell s" style="left:358px;top:496px"><svg width="14" height="14" viewBox="0 0 14 14" fill="none" stroke="#fff" stroke-width="1.15"><path d="M3.2 6.6L5.5 9.1L10.8 4.2"/></svg></div>
<div class="cell s" style="left:376px;top:496px"><svg width="14" height="14" viewBox="0 0 14 14" fill="none" stroke="#fff" stroke-width="1.15"><path d="M3.2 6.6L5.5 9.1L10.8 4.2"/></svg></div>
<div class="cell s" style="left:394px;top:496px"><svg width="14" height="14" viewBox="0 0 14 14" fill="none" stroke="#fff" stroke-width="1.15"><path d="M3.2 6.6L5.5 9.1L10.8 4.2"/></svg></div>
<div class="cell s" style="left:412px;top:496px"><svg width="14" height="14" viewBox="0 0 14 14" fill="none" stroke="#fff" stroke-width="1.15"><path d="M3.2 6.6L5.5 9.1L10.8 4.2"/></svg></div>
<div class="cell s" style="left:430px;top:496px"><svg width="14" height="14" viewBox="0 0 14 14" fill="none" stroke="#fff" stroke-width="1.15"><path d="M3.2 6.6L5.5 9.1L10.8 4.2"/></svg></div>
<div class="cell s" style="left:448px;top:496px"><svg width="14" height="14" viewBox="0 0 14 14" fill="none" stroke="#fff" stroke-width="1.15"><path d="M3.2 6.6L5.5 9.1L10.8 4.2"/></svg></div>
<div class="cell s" style="left:466px;top:496px"><svg width="14" height="14" viewBox="0 0 14 14" fill="none" stroke="#fff" stroke-width="1.15"><path d="M3.2 6.6L5.5 9.1L10.8 4.2"/></svg></div>
<div class="cell s" style="left:484px;top:496px"><svg width="14" height="14" viewBox="0 0 14 14" fill="none" stroke="#fff" stroke-width="1.15"><path d="M3.2 6.6L5.5 9.1L10.8 4.2"/></svg></div>
<div class="tname" style="top:513px">chain_t11</div>
<div class="rowline" style="top:531px"></div>
<div class="cell s" style="left:322px;top:516px"><svg width="14" height="14" viewBox="0 0 14 14" fill="none" stroke="#fff" stroke-width="1.15"><path d="M3.2 6.6L5.5 9.1L10.8 4.2"/></svg></div>
<div class="cell s" style="left:340px;top:516px"><svg width="14" height="14" viewBox="0 0 14 14" fill="none" stroke="#fff" stroke-width="1.15"><path d="M3.2 6.6L5.5 9.1L10.8 4.2"/></svg></div>
<div class="cell s" style="left:358px;top:516px"><svg width="14" height="14" viewBox="0 0 14 14" fill="none" stroke="#fff" stroke-width="1.15"><path d="M3.2 6.6L5.5 9.1L10.8 4.2"/></svg></div>
<div class="cell s" style="left:376px;top:516px"><svg width="14" height="14" viewBox="0 0 14 14" fill="none" stroke="#fff" stroke-width="1.15"><path d="M3.2 6.6L5.5 9.1L10.8 4.2"/></svg></div>
<div class="cell s" style="left:394px;top:516px"><svg width="14" height="14" viewBox="0 0 14 14" fill="none" stroke="#fff" stroke-width="1.15"><path d="M3.2 6.6L5.5 9.1L10.8 4.2"/></svg></div>
<div class="cell s" style="left:412px;top:516px"><svg width="14" height="14" viewBox="0 0 14 14" fill="none" stroke="#fff" stroke-width="1.15"><path d="M3.2 6.6L5.5 9.1L10.8 4.2"/></svg></div>
<div class="cell s" style="left:430px;top:516px"><svg width="14" height="14" viewBox="0 0 14 14" fill="none" stroke="#fff" stroke-width="1.15"><path d="M3.2 6.6L5.5 9.1L10.8 4.2"/></svg></div>
<div class="cell s" style="left:448px;top:516px"><svg width="14" height="14" viewBox="0 0 14 14" fill="none" stroke="#fff" stroke-width="1.15"><path d="M3.2 6.6L5.5 9.1L10.8 4.2"/></svg></div>
<div class="cell s" style="left:466px;top:516px"><svg width="14" height="14" viewBox="0 0 14 14" fill="none" stroke="#fff" stroke-width="1.15"><path d="M3.2 6.6L5.5 9.1L10.8 4.2"/></svg></div>
<div class="cell s" style="left:484px;top:516px"><svg width="14" height="14" viewBox="0 0 14 14" fill="none" stroke="#fff" stroke-width="1.15"><path d="M3.2 6.6L5.5 9.1L10.8 4.2"/></svg></div>
<div class="tname" style="top:533px">empty_1</div>
<div class="rowline" style="top:551px"></div>
<div class="cell f" style="left:322px;top:536px"><svg width="14" height="14" viewBox="0 0 14 14" fill="none" stroke="#fff" stroke-width="1.2"><path d="M4.5 4.5l5 5M9.5 4.5l-5 5"/></svg></div>
<div class="cell s" style="left:340px;top:536px"><svg width="14" height="14" viewBox="0 0 14 14" fill="none" stroke="#fff" stroke-width="1.15"><path d="M3.2 6.6L5.5 9.1L10.8 4.2"/></svg></div>
<div class="cell f" style="left:358px;top:536px"><svg width="14" height="14" viewBox="0 0 14 14" fill="none" stroke="#fff" stroke-width="1.2"><path d="M4.5 4.5l5 5M9.5 4.5l-5 5"/></svg></div>
<div class="cell f" style="left:376px;top:536px"><svg width="14" height="14" viewBox="0 0 14 14" fill="none" stroke="#fff" stroke-width="1.2"><path d="M4.5 4.5l5 5M9.5 4.5l-5 5"/></svg></div>
<div class="cell f" style="left:394px;top:536px"><svg width="14" height="14" viewBox="0 0 14 14" fill="none" stroke="#fff" stroke-width="1.2"><path d="M4.5 4.5l5 5M9.5 4.5l-5 5"/></svg></div>
<div class="cell s" style="left:412px;top:536px"><svg width="14" height="14" viewBox="0 0 14 14" fill="none" stroke="#fff" stroke-width="1.15"><path d="M3.2 6.6L5.5 9.1L10.8 4.2"/></svg></div>
<div class="cell f" style="left:430px;top:536px"><svg width="14" height="14" viewBox="0 0 14 14" fill="none" stroke="#fff" stroke-width="1.2"><path d="M4.5 4.5l5 5M9.5 4.5l-5 5"/></svg></div>
<div class="cell s" style="left:448px;top:536px"><svg width="14" height="14" viewBox="0 0 14 14" fill="none" stroke="#fff" stroke-width="1.15"><path d="M3.2 6.6L5.5 9.1L10.8 4.2"/></svg></div>
<div class="cell s" style="left:466px;top:536px"><svg width="14" height="14" viewBox="0 0 14 14" fill="none" stroke="#fff" stroke-width="1.15"><path d="M3.2 6.6L5.5 9.1L10.8 4.2"/></svg></div>
<div class="cell s" style="left:484px;top:536px"><svg width="14" height="14" viewBox="0 0 14 14" fill="none" stroke="#fff" stroke-width="1.15"><path d="M3.2 6.6L5.5 9.1L10.8 4.2"/></svg></div>
<div class="tname" style="top:553px">end_chain_linear</div>
<div class="rowline" style="top:571px"></div>
<div class="cell s" style="left:322px;top:556px"><svg width="14" height="14" viewBox="0 0 14 14" fill="none" stroke="#fff" stroke-width="1.15"><path d="M3.2 6.6L5.5 9.1L10.8 4.2"/></svg></div>
<div class="cell s" style="left:340px;top:556px"><svg width="14" height="14" viewBox="0 0 14 14" fill="none" stroke="#fff" stroke-width="1.15"><path d="M3.2 6.6L5.5 9.1L10.8 4.2"/></svg></div>
<div class="cell s" style="left:358px;top:556px"><svg width="14" height="14" viewBox="0 0 14 14" fill="none" stroke="#fff" stroke-width="1.15"><path d="M3.2 6.6L5.5 9.1L10.8 4.2"/></svg></div>
<div class="cell s" style="left:376px;top:556px"><svg width="14" height="14" viewBox="0 0 14 14" fill="none" stroke="#fff" stroke-width="1.15"><path d="M3.2 6.6L5.5 9.1L10.8 4.2"/></svg></div>
<div class="cell s" style="left:394px;top:556px"><svg width="14" height="14" viewBox="0 0 14 14" fill="none" stroke="#fff" stroke-width="1.15"><path d="M3.2 6.6L5.5 9.1L10.8 4.2"/></svg></div>
<div class="cell s" style="left:412px;top:556px"><svg width="14" height="14" viewBox="0 0 14 14" fill="none" stroke="#fff" stroke-width="1.15"><path d="M3.2 6.6L5.5 9.1L10.8 4.2"/></svg></div>
<div class="cell s" style="left:430px;top:556px"><svg width="14" height="14" viewBox="0 0 14 14" fill="none" stroke="#fff" stroke-width="1.15"><path d="M3.2 6.6L5.5 9.1L10.8 4.2"/></svg></div>
<div class="cell s" style="left:448px;top:556px"><svg width="14" height="14" viewBox="0 0 14 14" fill="none" stroke="#fff" stroke-width="1.15"><path d="M3.2 6.6L5.5 9.1L10.8 4.2"/></svg></div>
<div class="cell s" style="left:466px;top:556px"><svg width="14" height="14" viewBox="0 0 14 14" fill="none" stroke="#fff" stroke-width="1.15"><path d="M3.2 6.6L5.5 9.1L10.8 4.2"/></svg></div>
<div class="cell s" style="left:484px;top:556px"><svg width="14" height="14" viewBox="0 0 14 14" fill="none" stroke="#fff" stroke-width="1.15"><path d="M3.2 6.6L5.5 9.1L10.8 4.2"/></svg></div>
<div class="tname" style="top:573px">chain_t12</div>
<div class="rowline" style="top:591px"></div>
<div class="cell u" style="left:322px;top:576px"><svg width="14" height="14" viewBox="0 0 14 14" fill="none" stroke="#fff" stroke-opacity=".75" stroke-width="0.9"><circle cx="7" cy="7" r="4.6" stroke-dasharray="3.2 1.2" transform="rotate(-60 7 7)"/><circle cx="7" cy="7" r="2.3" stroke-opacity=".35"/><circle cx="7" cy="7" r="1.3" fill="#fff" fill-opacity=".7" stroke="none"/></svg></div>
<div class="cell s" style="left:340px;top:576px"><svg width="14" height="14" viewBox="0 0 14 14" fill="none" stroke="#fff" stroke-width="1.15"><path d="M3.2 6.6L5.5 9.1L10.8 4.2"/></svg></div>
<div class="cell u" style="left:358px;top:576px"><svg width="14" height="14" viewBox="0 0 14 14" fill="none" stroke="#fff" stroke-opacity=".75" stroke-width="0.9"><circle cx="7" cy="7" r="4.6" stroke-dasharray="3.2 1.2" transform="rotate(-60 7 7)"/><circle cx="7" cy="7" r="2.3" stroke-opacity=".35"/><circle cx="7" cy="7" r="1.3" fill="#fff" fill-opacity=".7" stroke="none"/></svg></div>
<div class="cell u" style="left:376px;top:576px"><svg width="14" height="14" viewBox="0 0 14 14" fill="none" stroke="#fff" stroke-opacity=".75" stroke-width="0.9"><circle cx="7" cy="7" r="4.6" stroke-dasharray="3.2 1.2" transform="rotate(-60 7 7)"/><circle cx="7" cy="7" r="2.3" stroke-opacity=".35"/><circle cx="7" cy="7" r="1.3" fill="#fff" fill-opacity=".7" stroke="none"/></svg></div>
<div class="cell u" style="left:394px;top:576px"><svg width="14" height="14" viewBox="0 0 14 14" fill="none" stroke="#fff" stroke-opacity=".75" stroke-width="0.9"><circle cx="7" cy="7" r="4.6" stroke-dasharray="3.2 1.2" transform="rotate(-60 7 7)"/><circle cx="7" cy="7" r="2.3" stroke-opacity=".35"/><circle cx="7" cy="7" r="1.3" fill="#fff" fill-opacity=".7" stroke="none"/></svg></div>
<div class="cell s" style="left:412px;top:576px"><svg width="14" height="14" viewBox="0 0 14 14" fill="none" stroke="#fff" stroke-width="1.15"><path d="M3.2 6.6L5.5 9.1L10.8 4.2"/></svg></div>
<div class="cell u" style="left:430px;top:576px"><svg width="14" height="14" viewBox="0 0 14 14" fill="none" stroke="#fff" stroke-opacity=".75" stroke-width="0.9"><circle cx="7" cy="7" r="4.6" stroke-dasharray="3.2 1.2" transform="rotate(-60 7 7)"/><circle cx="7" cy="7" r="2.3" stroke-opacity=".35"/><circle cx="7" cy="7" r="1.3" fill="#fff" fill-opacity=".7" stroke="none"/></svg></div>
<div class="cell s" style="left:448px;top:576px"><svg width="14" height="14" viewBox="0 0 14 14" fill="none" stroke="#fff" stroke-width="1.15"><path d="M3.2 6.6L5.5 9.1L10.8 4.2"/></svg></div>
<div class="cell s" style="left:466px;top:576px"><svg width="14" height="14" viewBox="0 0 14 14" fill="none" stroke="#fff" stroke-width="1.15"><path d="M3.2 6.6L5.5 9.1L10.8 4.2"/></svg></div>
<div class="cell s" style="left:484px;top:576px"><svg width="14" height="14" viewBox="0 0 14 14" fill="none" stroke="#fff" stroke-width="1.15"><path d="M3.2 6.6L5.5 9.1L10.8 4.2"/></svg></div>
<div class="tname" style="top:593px">chain_t13</div>
<div class="rowline" style="top:611px"></div>
<div class="cell u" style="left:322px;top:596px"><svg width="14" height="14" viewBox="0 0 14 14" fill="none" stroke="#fff" stroke-opacity=".75" stroke-width="0.9"><circle cx="7" cy="7" r="4.6" stroke-dasharray="3.2 1.2" transform="rotate(-60 7 7)"/><circle cx="7" cy="7" r="2.3" stroke-opacity=".35"/><circle cx="7" cy="7" r="1.3" fill="#fff" fill-opacity=".7" stroke="none"/></svg></div>
<div class="cell s" style="left:340px;top:596px"><svg width="14" height="14" viewBox="0 0 14 14" fill="none" stroke="#fff" stroke-width="1.15"><path d="M3.2 6.6L5.5 9.1L10.8 4.2"/></svg></div>
<div class="cell u" style="left:358px;top:596px"><svg width="14" height="14" viewBox="0 0 14 14" fill="none" stroke="#fff" stroke-opacity=".75" stroke-width="0.9"><circle cx="7" cy="7" r="4.6" stroke-dasharray="3.2 1.2" transform="rotate(-60 7 7)"/><circle cx="7" cy="7" r="2.3" stroke-opacity=".35"/><circle cx="7" cy="7" r="1.3" fill="#fff" fill-opacity=".7" stroke="none"/></svg></div>
<div class="cell u" style="left:376px;top:596px"><svg width="14" height="14" viewBox="0 0 14 14" fill="none" stroke="#fff" stroke-opacity=".75" stroke-width="0.9"><circle cx="7" cy="7" r="4.6" stroke-dasharray="3.2 1.2" transform="rotate(-60 7 7)"/><circle cx="7" cy="7" r="2.3" stroke-opacity=".35"/><circle cx="7" cy="7" r="1.3" fill="#fff" fill-opacity=".7" stroke="none"/></svg></div>
<div class="cell u" style="left:394px;top:596px"><svg width="14" height="14" viewBox="0 0 14 14" fill="none" stroke="#fff" stroke-opacity=".75" stroke-width="0.9"><circle cx="7" cy="7" r="4.6" stroke-dasharray="3.2 1.2" transform="rotate(-60 7 7)"/><circle cx="7" cy="7" r="2.3" stroke-opacity=".35"/><circle cx="7" cy="7" r="1.3" fill="#fff" fill-opacity=".7" stroke="none"/></svg></div>
<div class="cell s" style="left:412px;top:596px"><svg width="14" height="14" viewBox="0 0 14 14" fill="none" stroke="#fff" stroke-width="1.15"><path d="M3.2 6.6L5.5 9.1L10.8 4.2"/></svg></div>
<div class="cell u" style="left:430px;top:596px"><svg width="14" height="14" viewBox="0 0 14 14" fill="none" stroke="#fff" stroke-opacity=".75" stroke-width="0.9"><circle cx="7" cy="7" r="4.6" stroke-dasharray="3.2 1.2" transform="rotate(-60 7 7)"/><circle cx="7" cy="7" r="2.3" stroke-opacity=".35"/><circle cx="7" cy="7" r="1.3" fill="#fff" fill-opacity=".7" stroke="none"/></svg></div>
<div class="cell s" style="left:448px;top:596px"><svg width="14" height="14" viewBox="0 0 14 14" fill="none" stroke="#fff" stroke-width="1.15"><path d="M3.2 6.6L5.5 9.1L10.8 4.2"/></svg></div>
<div class="cell s" style="left:466px;top:596px"><svg width="14" height="14" viewBox="0 0 14 14" fill="none" stroke="#fff" stroke-width="1.15"><path d="M3.2 6.6L5.5 9.1L10.8 4.2"/></svg></div>
<div class="cell s" style="left:484px;top:596px"><svg width="14" height="14" viewBox="0 0 14 14" fill="none" stroke="#fff" stroke-width="1.15"><path d="M3.2 6.6L5.5 9.1L10.8 4.2"/></svg></div>
<div class="tname" style="top:613px">chain_t14</div>
<div class="rowline" style="top:631px"></div>
<div class="cell u" style="left:322px;top:616px"><svg width="14" height="14" viewBox="0 0 14 14" fill="none" stroke="#fff" stroke-opacity=".75" stroke-width="0.9"><circle cx="7" cy="7" r="4.6" stroke-dasharray="3.2 1.2" transform="rotate(-60 7 7)"/><circle cx="7" cy="7" r="2.3" stroke-opacity=".35"/><circle cx="7" cy="7" r="1.3" fill="#fff" fill-opacity=".7" stroke="none"/></svg></div>
<div class="cell s" style="left:340px;top:616px"><svg width="14" height="14" viewBox="0 0 14 14" fill="none" stroke="#fff" stroke-width="1.15"><path d="M3.2 6.6L5.5 9.1L10.8 4.2"/></svg></div>
<div class="cell u" style="left:358px;top:616px"><svg width="14" height="14" viewBox="0 0 14 14" fill="none" stroke="#fff" stroke-opacity=".75" stroke-width="0.9"><circle cx="7" cy="7" r="4.6" stroke-dasharray="3.2 1.2" transform="rotate(-60 7 7)"/><circle cx="7" cy="7" r="2.3" stroke-opacity=".35"/><circle cx="7" cy="7" r="1.3" fill="#fff" fill-opacity=".7" stroke="none"/></svg></div>
<div class="cell u" style="left:376px;top:616px"><svg width="14" height="14" viewBox="0 0 14 14" fill="none" stroke="#fff" stroke-opacity=".75" stroke-width="0.9"><circle cx="7" cy="7" r="4.6" stroke-dasharray="3.2 1.2" transform="rotate(-60 7 7)"/><circle cx="7" cy="7" r="2.3" stroke-opacity=".35"/><circle cx="7" cy="7" r="1.3" fill="#fff" fill-opacity=".7" stroke="none"/></svg></div>
<div class="cell u" style="left:394px;top:616px"><svg width="14" height="14" viewBox="0 0 14 14" fill="none" stroke="#fff" stroke-opacity=".75" stroke-width="0.9"><circle cx="7" cy="7" r="4.6" stroke-dasharray="3.2 1.2" transform="rotate(-60 7 7)"/><circle cx="7" cy="7" r="2.3" stroke-opacity=".35"/><circle cx="7" cy="7" r="1.3" fill="#fff" fill-opacity=".7" stroke="none"/></svg></div>
<div class="cell s" style="left:412px;top:616px"><svg width="14" height="14" viewBox="0 0 14 14" fill="none" stroke="#fff" stroke-width="1.15"><path d="M3.2 6.6L5.5 9.1L10.8 4.2"/></svg></div>
<div class="cell u" style="left:430px;top:616px"><svg width="14" height="14" viewBox="0 0 14 14" fill="none" stroke="#fff" stroke-opacity=".75" stroke-width="0.9"><circle cx="7" cy="7" r="4.6" stroke-dasharray="3.2 1.2" transform="rotate(-60 7 7)"/><circle cx="7" cy="7" r="2.3" stroke-opacity=".35"/><circle cx="7" cy="7" r="1.3" fill="#fff" fill-opacity=".7" stroke="none"/></svg></div>
<div class="cell s" style="left:448px;top:616px"><svg width="14" height="14" viewBox="0 0 14 14" fill="none" stroke="#fff" stroke-width="1.15"><path d="M3.2 6.6L5.5 9.1L10.8 4.2"/></svg></div>
<div class="cell s" style="left:466px;top:616px"><svg width="14" height="14" viewBox="0 0 14 14" fill="none" stroke="#fff" stroke-width="1.15"><path d="M3.2 6.6L5.5 9.1L10.8 4.2"/></svg></div>
<div class="cell s" style="left:484px;top:616px"><svg width="14" height="14" viewBox="0 0 14 14" fill="none" stroke="#fff" stroke-width="1.15"><path d="M3.2 6.6L5.5 9.1L10.8 4.2"/></svg></div>
<div class="tname" style="top:633px">chain_t15</div>
<div class="rowline" style="top:651px"></div>
<div class="cell u" style="left:322px;top:636px"><svg width="14" height="14" viewBox="0 0 14 14" fill="none" stroke="#fff" stroke-opacity=".75" stroke-width="0.9"><circle cx="7" cy="7" r="4.6" stroke-dasharray="3.2 1.2" transform="rotate(-60 7 7)"/><circle cx="7" cy="7" r="2.3" stroke-opacity=".35"/><circle cx="7" cy="7" r="1.3" fill="#fff" fill-opacity=".7" stroke="none"/></svg></div>
<div class="cell s" style="left:340px;top:636px"><svg width="14" height="14" viewBox="0 0 14 14" fill="none" stroke="#fff" stroke-width="1.15"><path d="M3.2 6.6L5.5 9.1L10.8 4.2"/></svg></div>
<div class="cell u" style="left:358px;top:636px"><svg width="14" height="14" viewBox="0 0 14 14" fill="none" stroke="#fff" stroke-opacity=".75" stroke-width="0.9"><circle cx="7" cy="7" r="4.6" stroke-dasharray="3.2 1.2" transform="rotate(-60 7 7)"/><circle cx="7" cy="7" r="2.3" stroke-opacity=".35"/><circle cx="7" cy="7" r="1.3" fill="#fff" fill-opacity=".7" stroke="none"/></svg></div>
<div class="cell u" style="left:376px;top:636px"><svg width="14" height="14" viewBox="0 0 14 14" fill="none" stroke="#fff" stroke-opacity=".75" stroke-width="0.9"><circle cx="7" cy="7" r="4.6" stroke-dasharray="3.2 1.2" transform="rotate(-60 7 7)"/><circle cx="7" cy="7" r="2.3" stroke-opacity=".35"/><circle cx="7" cy="7" r="1.3" fill="#fff" fill-opacity=".7" stroke="none"/></svg></div>
<div class="cell u" style="left:394px;top:636px"><svg width="14" height="14" viewBox="0 0 14 14" fill="none" stroke="#fff" stroke-opacity=".75" stroke-width="0.9"><circle cx="7" cy="7" r="4.6" stroke-dasharray="3.2 1.2" transform="rotate(-60 7 7)"/><circle cx="7" cy="7" r="2.3" stroke-opacity=".35"/><circle cx="7" cy="7" r="1.3" fill="#fff" fill-opacity=".7" stroke="none"/></svg></div>
<div class="cell s" style="left:412px;top:636px"><svg width="14" height="14" viewBox="0 0 14 14" fill="none" stroke="#fff" stroke-width="1.15"><path d="M3.2 6.6L5.5 9.1L10.8 4.2"/></svg></div>
<div class="cell u" style="left:430px;top:636px"><svg width="14" height="14" viewBox="0 0 14 14" fill="none" stroke="#fff" stroke-opacity=".75" stroke-width="0.9"><circle cx="7" cy="7" r="4.6" stroke-dasharray="3.2 1.2" transform="rotate(-60 7 7)"/><circle cx="7" cy="7" r="2.3" stroke-opacity=".35"/><circle cx="7" cy="7" r="1.3" fill="#fff" fill-opacity=".7" stroke="none"/></svg></div>
<div class="cell s" style="left:448px;top:636px"><svg width="14" height="14" viewBox="0 0 14 14" fill="none" stroke="#fff" stroke-width="1.15"><path d="M3.2 6.6L5.5 9.1L10.8 4.2"/></svg></div>
<div class="cell s" style="left:466px;top:636px"><svg width="14" height="14" viewBox="0 0 14 14" fill="none" stroke="#fff" stroke-width="1.15"><path d="M3.2 6.6L5.5 9.1L10.8 4.2"/></svg></div>
<div class="cell s" style="left:484px;top:636px"><svg width="14" height="14" viewBox="0 0 14 14" fill="none" stroke="#fff" stroke-width="1.15"><path d="M3.2 6.6L5.5 9.1L10.8 4.2"/></svg></div>
<div class="tname" style="top:653px">chain_t16</div>
<div class="rowline" style="top:671px"></div>
<div class="cell u" style="left:322px;top:656px"><svg width="14" height="14" viewBox="0 0 14 14" fill="none" stroke="#fff" stroke-opacity=".75" stroke-width="0.9"><circle cx="7" cy="7" r="4.6" stroke-dasharray="3.2 1.2" transform="rotate(-60 7 7)"/><circle cx="7" cy="7" r="2.3" stroke-opacity=".35"/><circle cx="7" cy="7" r="1.3" fill="#fff" fill-opacity=".7" stroke="none"/></svg></div>
<div class="cell s" style="left:340px;top:656px"><svg width="14" height="14" viewBox="0 0 14 14" fill="none" stroke="#fff" stroke-width="1.15"><path d="M3.2 6.6L5.5 9.1L10.8 4.2"/></svg></div>
<div class="cell u" style="left:358px;top:656px"><svg width="14" height="14" viewBox="0 0 14 14" fill="none" stroke="#fff" stroke-opacity=".75" stroke-width="0.9"><circle cx="7" cy="7" r="4.6" stroke-dasharray="3.2 1.2" transform="rotate(-60 7 7)"/><circle cx="7" cy="7" r="2.3" stroke-opacity=".35"/><circle cx="7" cy="7" r="1.3" fill="#fff" fill-opacity=".7" stroke="none"/></svg></div>
<div class="cell u" style="left:376px;top:656px"><svg width="14" height="14" viewBox="0 0 14 14" fill="none" stroke="#fff" stroke-opacity=".75" stroke-width="0.9"><circle cx="7" cy="7" r="4.6" stroke-dasharray="3.2 1.2" transform="rotate(-60 7 7)"/><circle cx="7" cy="7" r="2.3" stroke-opacity=".35"/><circle cx="7" cy="7" r="1.3" fill="#fff" fill-opacity=".7" stroke="none"/></svg></div>
<div class="cell u" style="left:394px;top:656px"><svg width="14" height="14" viewBox="0 0 14 14" fill="none" stroke="#fff" stroke-opacity=".75" stroke-width="0.9"><circle cx="7" cy="7" r="4.6" stroke-dasharray="3.2 1.2" transform="rotate(-60 7 7)"/><circle cx="7" cy="7" r="2.3" stroke-opacity=".35"/><circle cx="7" cy="7" r="1.3" fill="#fff" fill-opacity=".7" stroke="none"/></svg></div>
<div class="cell s" style="left:412px;top:656px"><svg width="14" height="14" viewBox="0 0 14 14" fill="none" stroke="#fff" stroke-width="1.15"><path d="M3.2 6.6L5.5 9.1L10.8 4.2"/></svg></div>
<div class="cell u" style="left:430px;top:656px"><svg width="14" height="14" viewBox="0 0 14 14" fill="none" stroke="#fff" stroke-opacity=".75" stroke-width="0.9"><circle cx="7" cy="7" r="4.6" stroke-dasharray="3.2 1.2" transform="rotate(-60 7 7)"/><circle cx="7" cy="7" r="2.3" stroke-opacity=".35"/><circle cx="7" cy="7" r="1.3" fill="#fff" fill-opacity=".7" stroke="none"/></svg></div>
<div class="cell s" style="left:448px;top:656px"><svg width="14" height="14" viewBox="0 0 14 14" fill="none" stroke="#fff" stroke-width="1.15"><path d="M3.2 6.6L5.5 9.1L10.8 4.2"/></svg></div>
<div class="cell s" style="left:466px;top:656px"><svg width="14" height="14" viewBox="0 0 14 14" fill="none" stroke="#fff" stroke-width="1.15"><path d="M3.2 6.6L5.5 9.1L10.8 4.2"/></svg></div>
<div class="cell s" style="left:484px;top:656px"><svg width="14" height="14" viewBox="0 0 14 14" fill="none" stroke="#fff" stroke-width="1.15"><path d="M3.2 6.6L5.5 9.1L10.8 4.2"/></svg></div>
<div class="tname" style="top:673px">chain_t17</div>
<div class="rowline" style="top:691px"></div>
<div class="cell u" style="left:322px;top:676px"><svg width="14" height="14" viewBox="0 0 14 14" fill="none" stroke="#fff" stroke-opacity=".75" stroke-width="0.9"><circle cx="7" cy="7" r="4.6" stroke-dasharray="3.2 1.2" transform="rotate(-60 7 7)"/><circle cx="7" cy="7" r="2.3" stroke-opacity=".35"/><circle cx="7" cy="7" r="1.3" fill="#fff" fill-opacity=".7" stroke="none"/></svg></div>
<div class="cell s" style="left:340px;top:676px"><svg width="14" height="14" viewBox="0 0 14 14" fill="none" stroke="#fff" stroke-width="1.15"><path d="M3.2 6.6L5.5 9.1L10.8 4.2"/></svg></div>
<div class="cell u" style="left:358px;top:676px"><svg width="14" height="14" viewBox="0 0 14 14" fill="none" stroke="#fff" stroke-opacity=".75" stroke-width="0.9"><circle cx="7" cy="7" r="4.6" stroke-dasharray="3.2 1.2" transform="rotate(-60 7 7)"/><circle cx="7" cy="7" r="2.3" stroke-opacity=".35"/><circle cx="7" cy="7" r="1.3" fill="#fff" fill-opacity=".7" stroke="none"/></svg></div>
<div class="cell u" style="left:376px;top:676px"><svg width="14" height="14" viewBox="0 0 14 14" fill="none" stroke="#fff" stroke-opacity=".75" stroke-width="0.9"><circle cx="7" cy="7" r="4.6" stroke-dasharray="3.2 1.2" transform="rotate(-60 7 7)"/><circle cx="7" cy="7" r="2.3" stroke-opacity=".35"/><circle cx="7" cy="7" r="1.3" fill="#fff" fill-opacity=".7" stroke="none"/></svg></div>
<div class="cell u" style="left:394px;top:676px"><svg width="14" height="14" viewBox="0 0 14 14" fill="none" stroke="#fff" stroke-opacity=".75" stroke-width="0.9"><circle cx="7" cy="7" r="4.6" stroke-dasharray="3.2 1.2" transform="rotate(-60 7 7)"/><circle cx="7" cy="7" r="2.3" stroke-opacity=".35"/><circle cx="7" cy="7" r="1.3" fill="#fff" fill-opacity=".7" stroke="none"/></svg></div>
<div class="cell s" style="left:412px;top:676px"><svg width="14" height="14" viewBox="0 0 14 14" fill="none" stroke="#fff" stroke-width="1.15"><path d="M3.2 6.6L5.5 9.1L10.8 4.2"/></svg></div>
<div class="cell u" style="left:430px;top:676px"><svg width="14" height="14" viewBox="0 0 14 14" fill="none" stroke="#fff" stroke-opacity=".75" stroke-width="0.9"><circle cx="7" cy="7" r="4.6" stroke-dasharray="3.2 1.2" transform="rotate(-60 7 7)"/><circle cx="7" cy="7" r="2.3" stroke-opacity=".35"/><circle cx="7" cy="7" r="1.3" fill="#fff" fill-opacity=".7" stroke="none"/></svg></div>
<div class="cell s" style="left:448px;top:676px"><svg width="14" height="14" viewBox="0 0 14 14" fill="none" stroke="#fff" stroke-width="1.15"><path d="M3.2 6.6L5.5 9.1L10.8 4.2"/></svg></div>
<div class="cell s" style="left:466px;top:676px"><svg width="14" height="14" viewBox="0 0 14 14" fill="none" stroke="#fff" stroke-width="1.15"><path d="M3.2 6.6L5.5 9.1L10.8 4.2"/></svg></div>
<div class="cell s" style="left:484px;top:676px"><svg width="14" height="14" viewBox="0 0 14 14" fill="none" stroke="#fff" stroke-width="1.15"><path d="M3.2 6.6L5.5 9.1L10.8 4.2"/></svg></div>
<div class="tname" style="top:693px">empty_2</div>
<div class="rowline" style="top:711px"></div>
<div class="cell u" style="left:322px;top:696px"><svg width="14" height="14" viewBox="0 0 14 14" fill="none" stroke="#fff" stroke-opacity=".75" stroke-width="0.9"><circle cx="7" cy="7" r="4.6" stroke-dasharray="3.2 1.2" transform="rotate(-60 7 7)"/><circle cx="7" cy="7" r="2.3" stroke-opacity=".35"/><circle cx="7" cy="7" r="1.3" fill="#fff" fill-opacity=".7" stroke="none"/></svg></div>
<div class="cell s" style="left:340px;top:696px"><svg width="14" height="14" viewBox="0 0 14 14" fill="none" stroke="#fff" stroke-width="1.15"><path d="M3.2 6.6L5.5 9.1L10.8 4.2"/></svg></div>
<div class="cell u" style="left:358px;top:696px"><svg width="14" height="14" viewBox="0 0 14 14" fill="none" stroke="#fff" stroke-opacity=".75" stroke-width="0.9"><circle cx="7" cy="7" r="4.6" stroke-dasharray="3.2 1.2" transform="rotate(-60 7 7)"/><circle cx="7" cy="7" r="2.3" stroke-opacity=".35"/><circle cx="7" cy="7" r="1.3" fill="#fff" fill-opacity=".7" stroke="none"/></svg></div>
<div class="cell u" style="left:376px;top:696px"><svg width="14" height="14" viewBox="0 0 14 14" fill="none" stroke="#fff" stroke-opacity=".75" stroke-width="0.9"><circle cx="7" cy="7" r="4.6" stroke-dasharray="3.2 1.2" transform="rotate(-60 7 7)"/><circle cx="7" cy="7" r="2.3" stroke-opacity=".35"/><circle cx="7" cy="7" r="1.3" fill="#fff" fill-opacity=".7" stroke="none"/></svg></div>
<div class="cell u" style="left:394px;top:696px"><svg width="14" height="14" viewBox="0 0 14 14" fill="none" stroke="#fff" stroke-opacity=".75" stroke-width="0.9"><circle cx="7" cy="7" r="4.6" stroke-dasharray="3.2 1.2" transform="rotate(-60 7 7)"/><circle cx="7" cy="7" r="2.3" stroke-opacity=".35"/><circle cx="7" cy="7" r="1.3" fill="#fff" fill-opacity=".7" stroke="none"/></svg></div>
<div class="cell s" style="left:412px;top:696px"><svg width="14" height="14" viewBox="0 0 14 14" fill="none" stroke="#fff" stroke-width="1.15"><path d="M3.2 6.6L5.5 9.1L10.8 4.2"/></svg></div>
<div class="cell u" style="left:430px;top:696px"><svg width="14" height="14" viewBox="0 0 14 14" fill="none" stroke="#fff" stroke-opacity=".75" stroke-width="0.9"><circle cx="7" cy="7" r="4.6" stroke-dasharray="3.2 1.2" transform="rotate(-60 7 7)"/><circle cx="7" cy="7" r="2.3" stroke-opacity=".35"/><circle cx="7" cy="7" r="1.3" fill="#fff" fill-opacity=".7" stroke="none"/></svg></div>
<div class="cell s" style="left:448px;top:696px"><svg width="14" height="14" viewBox="0 0 14 14" fill="none" stroke="#fff" stroke-width="1.15"><path d="M3.2 6.6L5.5 9.1L10.8 4.2"/></svg></div>
<div class="cell s" style="left:466px;top:696px"><svg width="14" height="14" viewBox="0 0 14 14" fill="none" stroke="#fff" stroke-width="1.15"><path d="M3.2 6.6L5.5 9.1L10.8 4.2"/></svg></div>
<div class="cell s" style="left:484px;top:696px"><svg width="14" height="14" viewBox="0 0 14 14" fill="none" stroke="#fff" stroke-width="1.15"><path d="M3.2 6.6L5.5 9.1L10.8 4.2"/></svg></div>
<div class="tname" style="top:713px">chain_t18</div>
<div class="rowline" style="top:731px"></div>
<div class="cell u" style="left:322px;top:716px"><svg width="14" height="14" viewBox="0 0 14 14" fill="none" stroke="#fff" stroke-opacity=".75" stroke-width="0.9"><circle cx="7" cy="7" r="4.6" stroke-dasharray="3.2 1.2" transform="rotate(-60 7 7)"/><circle cx="7" cy="7" r="2.3" stroke-opacity=".35"/><circle cx="7" cy="7" r="1.3" fill="#fff" fill-opacity=".7" stroke="none"/></svg></div>
<div class="cell s" style="left:340px;top:716px"><svg width="14" height="14" viewBox="0 0 14 14" fill="none" stroke="#fff" stroke-width="1.15"><path d="M3.2 6.6L5.5 9.1L10.8 4.2"/></svg></div>
<div class="cell u" style="left:358px;top:716px"><svg width="14" height="14" viewBox="0 0 14 14" fill="none" stroke="#fff" stroke-opacity=".75" stroke-width="0.9"><circle cx="7" cy="7" r="4.6" stroke-dasharray="3.2 1.2" transform="rotate(-60 7 7)"/><circle cx="7" cy="7" r="2.3" stroke-opacity=".35"/><circle cx="7" cy="7" r="1.3" fill="#fff" fill-opacity=".7" stroke="none"/></svg></div>
<div class="cell u" style="left:376px;top:716px"><svg width="14" height="14" viewBox="0 0 14 14" fill="none" stroke="#fff" stroke-opacity=".75" stroke-width="0.9"><circle cx="7" cy="7" r="4.6" stroke-dasharray="3.2 1.2" transform="rotate(-60 7 7)"/><circle cx="7" cy="7" r="2.3" stroke-opacity=".35"/><circle cx="7" cy="7" r="1.3" fill="#fff" fill-opacity=".7" stroke="none"/></svg></div>
<div class="cell u" style="left:394px;top:716px"><svg width="14" height="14" viewBox="0 0 14 14" fill="none" stroke="#fff" stroke-opacity=".75" stroke-width="0.9"><circle cx="7" cy="7" r="4.6" stroke-dasharray="3.2 1.2" transform="rotate(-60 7 7)"/><circle cx="7" cy="7" r="2.3" stroke-opacity=".35"/><circle cx="7" cy="7" r="1.3" fill="#fff" fill-opacity=".7" stroke="none"/></svg></div>
<div class="cell s" style="left:412px;top:716px"><svg width="14" height="14" viewBox="0 0 14 14" fill="none" stroke="#fff" stroke-width="1.15"><path d="M3.2 6.6L5.5 9.1L10.8 4.2"/></svg></div>
<div class="cell u" style="left:430px;top:716px"><svg width="14" height="14" viewBox="0 0 14 14" fill="none" stroke="#fff" stroke-opacity=".75" stroke-width="0.9"><circle cx="7" cy="7" r="4.6" stroke-dasharray="3.2 1.2" transform="rotate(-60 7 7)"/><circle cx="7" cy="7" r="2.3" stroke-opacity=".35"/><circle cx="7" cy="7" r="1.3" fill="#fff" fill-opacity=".7" stroke="none"/></svg></div>
<div class="cell s" style="left:448px;top:716px"><svg width="14" height="14" viewBox="0 0 14 14" fill="none" stroke="#fff" stroke-width="1.15"><path d="M3.2 6.6L5.5 9.1L10.8 4.2"/></svg></div>
<div class="cell s" style="left:466px;top:716px"><svg width="14" height="14" viewBox="0 0 14 14" fill="none" stroke="#fff" stroke-width="1.15"><path d="M3.2 6.6L5.5 9.1L10.8 4.2"/></svg></div>
<div class="cell s" style="left:484px;top:716px"><svg width="14" height="14" viewBox="0 0 14 14" fill="none" stroke="#fff" stroke-width="1.15"><path d="M3.2 6.6L5.5 9.1L10.8 4.2"/></svg></div>
<div class="tname" style="top:733px">chain_t19</div>
<div class="rowline" style="top:751px"></div>
<div class="cell u" style="left:322px;top:736px"><svg width="14" height="14" viewBox="0 0 14 14" fill="none" stroke="#fff" stroke-opacity=".75" stroke-width="0.9"><circle cx="7" cy="7" r="4.6" stroke-dasharray="3.2 1.2" transform="rotate(-60 7 7)"/><circle cx="7" cy="7" r="2.3" stroke-opacity=".35"/><circle cx="7" cy="7" r="1.3" fill="#fff" fill-opacity=".7" stroke="none"/></svg></div>
<div class="cell s" style="left:340px;top:736px"><svg width="14" height="14" viewBox="0 0 14 14" fill="none" stroke="#fff" stroke-width="1.15"><path d="M3.2 6.6L5.5 9.1L10.8 4.2"/></svg></div>
<div class="cell u" style="left:358px;top:736px"><svg width="14" height="14" viewBox="0 0 14 14" fill="none" stroke="#fff" stroke-opacity=".75" stroke-width="0.9"><circle cx="7" cy="7" r="4.6" stroke-dasharray="3.2 1.2" transform="rotate(-60 7 7)"/><circle cx="7" cy="7" r="2.3" stroke-opacity=".35"/><circle cx="7" cy="7" r="1.3" fill="#fff" fill-opacity=".7" stroke="none"/></svg></div>
<div class="cell u" style="left:376px;top:736px"><svg width="14" height="14" viewBox="0 0 14 14" fill="none" stroke="#fff" stroke-opacity=".75" stroke-width="0.9"><circle cx="7" cy="7" r="4.6" stroke-dasharray="3.2 1.2" transform="rotate(-60 7 7)"/><circle cx="7" cy="7" r="2.3" stroke-opacity=".35"/><circle cx="7" cy="7" r="1.3" fill="#fff" fill-opacity=".7" stroke="none"/></svg></div>
<div class="cell u" style="left:394px;top:736px"><svg width="14" height="14" viewBox="0 0 14 14" fill="none" stroke="#fff" stroke-opacity=".75" stroke-width="0.9"><circle cx="7" cy="7" r="4.6" stroke-dasharray="3.2 1.2" transform="rotate(-60 7 7)"/><circle cx="7" cy="7" r="2.3" stroke-opacity=".35"/><circle cx="7" cy="7" r="1.3" fill="#fff" fill-opacity=".7" stroke="none"/></svg></div>
<div class="cell s" style="left:412px;top:736px"><svg width="14" height="14" viewBox="0 0 14 14" fill="none" stroke="#fff" stroke-width="1.15"><path d="M3.2 6.6L5.5 9.1L10.8 4.2"/></svg></div>
<div class="cell u" style="left:430px;top:736px"><svg width="14" height="14" viewBox="0 0 14 14" fill="none" stroke="#fff" stroke-opacity=".75" stroke-width="0.9"><circle cx="7" cy="7" r="4.6" stroke-dasharray="3.2 1.2" transform="rotate(-60 7 7)"/><circle cx="7" cy="7" r="2.3" stroke-opacity=".35"/><circle cx="7" cy="7" r="1.3" fill="#fff" fill-opacity=".7" stroke="none"/></svg></div>
<div class="cell s" style="left:448px;top:736px"><svg width="14" height="14" viewBox="0 0 14 14" fill="none" stroke="#fff" stroke-width="1.15"><path d="M3.2 6.6L5.5 9.1L10.8 4.2"/></svg></div>
<div class="cell s" style="left:466px;top:736px"><svg width="14" height="14" viewBox="0 0 14 14" fill="none" stroke="#fff" stroke-width="1.15"><path d="M3.2 6.6L5.5 9.1L10.8 4.2"/></svg></div>
<div class="cell s" style="left:484px;top:736px"><svg width="14" height="14" viewBox="0 0 14 14" fill="none" stroke="#fff" stroke-width="1.15"><path d="M3.2 6.6L5.5 9.1L10.8 4.2"/></svg></div>
<div class="tname" style="top:753px">end_chain</div>
<div class="rowline" style="top:771px"></div>
<div class="cell u" style="left:322px;top:756px"><svg width="14" height="14" viewBox="0 0 14 14" fill="none" stroke="#fff" stroke-opacity=".75" stroke-width="0.9"><circle cx="7" cy="7" r="4.6" stroke-dasharray="3.2 1.2" transform="rotate(-60 7 7)"/><circle cx="7" cy="7" r="2.3" stroke-opacity=".35"/><circle cx="7" cy="7" r="1.3" fill="#fff" fill-opacity=".7" stroke="none"/></svg></div>
<div class="cell s" style="left:340px;top:756px"><svg width="14" height="14" viewBox="0 0 14 14" fill="none" stroke="#fff" stroke-width="1.15"><path d="M3.2 6.6L5.5 9.1L10.8 4.2"/></svg></div>
<div class="cell u" style="left:358px;top:756px"><svg width="14" height="14" viewBox="0 0 14 14" fill="none" stroke="#fff" stroke-opacity=".75" stroke-width="0.9"><circle cx="7" cy="7" r="4.6" stroke-dasharray="3.2 1.2" transform="rotate(-60 7 7)"/><circle cx="7" cy="7" r="2.3" stroke-opacity=".35"/><circle cx="7" cy="7" r="1.3" fill="#fff" fill-opacity=".7" stroke="none"/></svg></div>
<div class="cell u" style="left:376px;top:756px"><svg width="14" height="14" viewBox="0 0 14 14" fill="none" stroke="#fff" stroke-opacity=".75" stroke-width="0.9"><circle cx="7" cy="7" r="4.6" stroke-dasharray="3.2 1.2" transform="rotate(-60 7 7)"/><circle cx="7" cy="7" r="2.3" stroke-opacity=".35"/><circle cx="7" cy="7" r="1.3" fill="#fff" fill-opacity=".7" stroke="none"/></svg></div>
<div class="cell u" style="left:394px;top:756px"><svg width="14" height="14" viewBox="0 0 14 14" fill="none" stroke="#fff" stroke-opacity=".75" stroke-width="0.9"><circle cx="7" cy="7" r="4.6" stroke-dasharray="3.2 1.2" transform="rotate(-60 7 7)"/><circle cx="7" cy="7" r="2.3" stroke-opacity=".35"/><circle cx="7" cy="7" r="1.3" fill="#fff" fill-opacity=".7" stroke="none"/></svg></div>
<div class="cell s" style="left:412px;top:756px"><svg width="14" height="14" viewBox="0 0 14 14" fill="none" stroke="#fff" stroke-width="1.15"><path d="M3.2 6.6L5.5 9.1L10.8 4.2"/></svg></div>
<div class="cell u" style="left:430px;top:756px"><svg width="14" height="14" viewBox="0 0 14 14" fill="none" stroke="#fff" stroke-opacity=".75" stroke-width="0.9"><circle cx="7" cy="7" r="4.6" stroke-dasharray="3.2 1.2" transform="rotate(-60 7 7)"/><circle cx="7" cy="7" r="2.3" stroke-opacity=".35"/><circle cx="7" cy="7" r="1.3" fill="#fff" fill-opacity=".7" stroke="none"/></svg></div>
<div class="cell s" style="left:448px;top:756px"><svg width="14" height="14" viewBox="0 0 14 14" fill="none" stroke="#fff" stroke-width="1.15"><path d="M3.2 6.6L5.5 9.1L10.8 4.2"/></svg></div>
<div class="cell s" style="left:466px;top:756px"><svg width="14" height="14" viewBox="0 0 14 14" fill="none" stroke="#fff" stroke-width="1.15"><path d="M3.2 6.6L5.5 9.1L10.8 4.2"/></svg></div>
<div class="cell s" style="left:484px;top:756px"><svg width="14" height="14" viewBox="0 0 14 14" fill="none" stroke="#fff" stroke-width="1.15"><path d="M3.2 6.6L5.5 9.1L10.8 4.2"/></svg></div>
<div class="a" style="left:508px;top:62px;width:2px;height:1175px;background:#8b8b97"></div>
<div class="a" style="left:1393px;top:14px;width:200px;height:40px;background:#f2f2f3;border-radius:6px"></div>
<svg class="a" style="left:1405px;top:20px" width="30" height="30" viewBox="1405 20 30 30" fill="none" stroke="#18181b" stroke-width="1.75" stroke-linecap="round"><circle cx="1419" cy="32.3" r="4.9"/><path d="M1422.7 36L1426.3 39.6"/></svg>
<div class="t" style="left:1437.5px;top:24px;font-size:14.4px;color:#27272a;-webkit-text-stroke:0.2px #27272a">Search Dags</div>
<div class="a" style="left:1529px;top:25.5px;width:31.5px;height:16.5px;border:1px solid #dcdce0;border-radius:4px;background:#f5f5f6;box-shadow:0 1px 0 #d8d8dc"></div>
<div class="t" style="left:1533px;top:23.3px;font-size:10.8px;color:#3f3f46;line-height:18px;-webkit-text-stroke:0.3px #3f3f46">&#8984;+K</div>
<div class="a" style="left:1597px;top:14px;width:109px;height:40px;background:#3b56e0;border-radius:6px"></div>
<svg class="a" style="left:1610px;top:20px" width="30" height="30" viewBox="1610 20 30 30" fill="none" stroke="#fff" stroke-width="1.45" stroke-linejoin="round"><path d="M1618.3 26.6L1630 34.2L1618.3 41.6Z"/></svg>
<div class="t" style="left:1642px;top:24px;font-size:14.6px;color:#fff;-webkit-text-stroke:0.3px #fff">Trigger</div>
<div class="card" style="left:518px;top:62px;width:1188px;height:132px"></div>
<svg class="a" style="left:0;top:0" width="600" height="120" viewBox="0 0 600 120" fill="none" stroke="#18181b" stroke-width="1.95" stroke-linecap="round"><g transform="translate(529.6 87.8) scale(0.705)"><path d="M0 0H16M5 0V12.9a2 2 0 0 0 2 2H12.4"/><circle cx="19.8" cy="0" r="3.8"/><circle cx="16.2" cy="14.9" r="3.8"/></g></svg>
<div class="t" style="left:555px;top:81px;font-size:18px;font-weight:bold;letter-spacing:-0.3px;line-height:20px">toy_chain_linear_vs_chain_complex</div>
<div class="a" style="left:866px;top:84px;width:32px;height:16px;background:#3b56e0;border-radius:8px"></div>
<div class="a" style="left:884px;top:86px;width:12px;height:12px;background:#fff;border-radius:6px"></div>
<div class="lbl12" style="left:527px;top:126px;letter-spacing:0.05px">Schedule</div>
<div class="lbl12" style="left:661px;top:126px;letter-spacing:0.05px">Latest Run</div>
<div class="lbl12" style="left:922px;top:126px;letter-spacing:0.05px">Next Run</div>
<div class="lbl12" style="left:1054px;top:126px;letter-spacing:0.05px">Owner</div>
<div class="lbl12" style="left:1181px;top:126px;letter-spacing:0.05px">Tags</div>
<div class="lbl12" style="left:1586px;top:126px;letter-spacing:0.15px">Latest Dag Version</div>
<div class="t" style="left:661px;top:156px;font-size:16px">2025-04-21, 13:11:17</div>
<div class="a" style="left:821px;top:153px;width:22px;height:22px;border-radius:11px;background:#2a6e1b"></div>
<svg class="a" style="left:825px;top:157px" width="14" height="14" viewBox="0 0 14 14" fill="none" stroke="#fff" stroke-width="1.45" stroke-linecap="round" stroke-linejoin="round"><path d="M2.2 7.1L5.5 10.3L12.2 4.1"/></svg>
<div class="t" style="left:1054px;top:156px;font-size:16px;letter-spacing:0.15px">airflow</div>
<svg class="a" style="left:1180px;top:156px" width="17" height="17" viewBox="0 0 24 24" fill="none" stroke="#18181b" stroke-width="2" stroke-linejoin="round"><path d="M12.6 2.6A2 2 0 0 0 11.2 2H4a2 2 0 0 0-2 2v7.2a2 2 0 0 0 .6 1.4l8.7 8.7a2.4 2.4 0 0 0 3.4 0l6.6-6.6a2.4 2.4 0 0 0 0-3.4z"/><circle cx="7.5" cy="7.5" r="1" fill="#18181b"/></svg>
<div class="t" style="left:1201px;top:154px;font-size:14px;letter-spacing:0.27px">chain(), dependency_functions, core, , +2 more</div>
<div class="t" style="left:1586px;top:155.8px;font-size:16px">v1</div>
<div class="a" style="left:1551px;top:71px;width:146px;height:40px;border:1px solid #e4e4e7;border-radius:6px"></div>
<svg class="a" style="left:1565px;top:78px" width="25" height="25" viewBox="1565 78 25 25" fill="none" stroke="#18181b" stroke-width="1.35"><path d="M1578.3 98.4H1571.4V83.2H1584V92.3"/><path d="M1573.8 86.4H1582.2M1573.8 89.2H1578.6"/><circle cx="1581.3" cy="95.6" r="2.8"/></svg>
<div class="t" style="left:1596.5px;top:81px;font-size:14.2px;-webkit-text-stroke:0.2px #18181b">Reparse Dag</div>
<div class="tab" style="left:527px;color:#52525b">Overview</div>
<div class="tab" style="left:631px;color:#18181b">Runs</div>
<div class="tab" style="left:702px;color:#52525b">Tasks</div>
<div class="tab" style="left:778px;color:#52525b">Events</div>
<div class="tab" style="left:862px;color:#52525b">Code</div>
<div class="tab" style="left:935px;color:#52525b">Details</div>
<div class="a" style="left:510px;top:238px;width:1196px;height:1px;background:#e4e4e7"></div>
<div class="a" style="left:615px;top:237px;width:71px;height:3px;background:#3b5be0"></div>
<div class="a" style="left:518px;top:247px;width:200px;height:40px;border:1px solid #e4e4e7;border-radius:6px"></div>
<div class="t" style="left:531px;top:257px;font-size:14px">All States</div>
<svg class="a" style="left:692.5px;top:263px" width="11" height="8" viewBox="0 0 11 8" fill="none" stroke="#3f3f46" stroke-width="1.4"><path d="M1 1.5l4.5 4.5 4.5-4.5"/></svg>
<div class="a" style="left:718px;top:247px;width:200px;height:40px;border:1px solid #e4e4e7;border-radius:6px"></div>
<div class="t" style="left:731px;top:257px;font-size:14px">All Run Types</div>
<svg class="a" style="left:892.5px;top:263px" width="11" height="8" viewBox="0 0 11 8" fill="none" stroke="#3f3f46" stroke-width="1.4"><path d="M1 1.5l4.5 4.5 4.5-4.5"/></svg>
<div class="th" style="left:547px;letter-spacing:0.3px">Run After</div>
<div class="a" style="left:621px;top:321.5px;width:12px;height:15px"><svg width="12" height="15" viewBox="0 0 12 15"><path d="M6 0.6L11 5.7H1Z M6 14L11 8.7H1Z" fill="#1f1f23" stroke="#1f1f23" stroke-width="1" stroke-linejoin="round"/></svg></div>
<div class="th" style="left:756px;letter-spacing:0.3px">State</div>
<div class="a" style="left:802px;top:321.5px;width:12px;height:15px"><svg width="12" height="15" viewBox="0 0 12 15"><path d="M6 0.6L11 5.7H1Z M6 14L11 8.7H1Z" fill="#1f1f23" stroke="#1f1f23" stroke-width="1" stroke-linejoin="round"/></svg></div>
<div class="th" style="left:875px;letter-spacing:0.3px">Run Type</div>
<div class="th" style="left:997px;letter-spacing:0.3px">Start Date</div>
<div class="a" style="left:1076px;top:321.5px;width:12px;height:15px"><svg width="12" height="15" viewBox="0 0 12 15"><path d="M6 0.6L11 5.7H1Z M6 14L11 8.7H1Z" fill="#1f1f23" stroke="#1f1f23" stroke-width="1" stroke-linejoin="round"/></svg></div>
<div class="th" style="left:1193px;letter-spacing:0.3px">End Date</div>
<div class="a" style="left:1265px;top:321.5px;width:12px;height:15px"><svg width="12" height="15" viewBox="0 0 12 15"><path d="M6 0.6L11 5.7H1Z M6 14L11 8.7H1Z" fill="#1f1f23" stroke="#1f1f23" stroke-width="1" stroke-linejoin="round"/></svg></div>
<div class="th" style="left:1373px;letter-spacing:0.4px">Duration</div>
<div class="th" style="left:1464px;letter-spacing:0.3px">Dag Version(s)</div>
<svg class="a" style="left:1610px;top:315px" width="30" height="25" viewBox="1610 315 30 25" fill="none" stroke="#18181b" stroke-width="1.6" stroke-linecap="round"><path d="M1619.2 324.9H1632.7M1622.1 329.05H1629.9M1624.8 333.15H1627"/></svg>
<div class="a" style="left:518px;top:365px;width:1180px;height:1px;background:#e4e4e7"></div>
<div class="tr g" style="top:366px">
<div class="td lnk" style="left:13px">2025-04-21, 13:11:17</div>
<div class="badge bs" style="left:220px;width:88px"><svg class="a" style="left:9px;top:6px" width="12" height="12" viewBox="0 0 12 12" fill="none" stroke="#fff" stroke-width="1.3" stroke-linecap="round" stroke-linejoin="round"><path d="M1.2 5.8L4.5 9.4L10.8 2.4"/></svg><span class="a" style="left:27px;letter-spacing:0.15px">success</span></div>
<svg class="a" style="left:361px;top:26px" width="8" height="9" viewBox="0 0 8 9"><path d="M0.5 0.5L7.5 4.5L0.5 8.5Z" fill="#18181b"/></svg>
<div class="td" style="left:379px">manual</div>
<div class="td" style="left:462px;letter-spacing:0.9px">2025-04-21, 13:11:19</div>
<div class="td" style="left:658px;letter-spacing:0.9px">2025-04-21, 13:11:27</div>
<div class="td" style="left:855px;letter-spacing:0.6px">8.20</div>
<div class="td" style="left:946px">v1</div>
<svg class="a" style="left:1106px;top:23px" width="16" height="16" viewBox="0 0 16 16"><path d="M11.9 8.6A4.2 4.2 0 1 1 10.3 4.3" fill="none" stroke="#2633a8" stroke-width="1.45"/><path d="M8.6 5.9H12.6V1.9Z" fill="#2633a8"/></svg>
<svg class="a" style="left:1147px;top:28px" width="7" height="5" viewBox="0 0 7 5"><path d="M0 0H6.6L3.3 4.2Z" fill="#2633a8"/></svg>
</div>
<div class="tr" style="top:427px">
<div class="td lnk" style="left:13px">2025-04-21, 13:11:15</div>
<div class="badge bs" style="left:220px;width:88px"><svg class="a" style="left:9px;top:6px" width="12" height="12" viewBox="0 0 12 12" fill="none" stroke="#fff" stroke-width="1.3" stroke-linecap="round" stroke-linejoin="round"><path d="M1.2 5.8L4.5 9.4L10.8 2.4"/></svg><span class="a" style="left:27px;letter-spacing:0.15px">success</span></div>
<svg class="a" style="left:361px;top:26px" width="8" height="9" viewBox="0 0 8 9"><path d="M0.5 0.5L7.5 4.5L0.5 8.5Z" fill="#18181b"/></svg>
<div class="td" style="left:379px">manual</div>
<div class="td" style="left:462px;letter-spacing:0.9px">2025-04-21, 13:11:16</div>
<div class="td" style="left:658px;letter-spacing:0.9px">2025-04-21, 13:11:24</div>
<div class="td" style="left:855px;letter-spacing:0.6px">8.33</div>
<div class="td" style="left:946px">v1</div>
<svg class="a" style="left:1106px;top:23px" width="16" height="16" viewBox="0 0 16 16"><path d="M11.9 8.6A4.2 4.2 0 1 1 10.3 4.3" fill="none" stroke="#2633a8" stroke-width="1.45"/><path d="M8.6 5.9H12.6V1.9Z" fill="#2633a8"/></svg>
<svg class="a" style="left:1147px;top:28px" width="7" height="5" viewBox="0 0 7 5"><path d="M0 0H6.6L3.3 4.2Z" fill="#2633a8"/></svg>
</div>
<div class="tr g" style="top:488px">
<div class="td lnk" style="left:13px">2025-04-21, 13:11:12</div>
<div class="badge bs" style="left:220px;width:88px"><svg class="a" style="left:9px;top:6px" width="12" height="12" viewBox="0 0 12 12" fill="none" stroke="#fff" stroke-width="1.3" stroke-linecap="round" stroke-linejoin="round"><path d="M1.2 5.8L4.5 9.4L10.8 2.4"/></svg><span class="a" style="left:27px;letter-spacing:0.15px">success</span></div>
<svg class="a" style="left:361px;top:26px" width="8" height="9" viewBox="0 0 8 9"><path d="M0.5 0.5L7.5 4.5L0.5 8.5Z" fill="#18181b"/></svg>
<div class="td" style="left:379px">manual</div>
<div class="td" style="left:462px;letter-spacing:0.9px">2025-04-21, 13:11:14</div>
<div class="td" style="left:658px;letter-spacing:0.9px">2025-04-21, 13:11:22</div>
<div class="td" style="left:855px;letter-spacing:0.6px">7.92</div>
<div class="td" style="left:946px">v1</div>
<svg class="a" style="left:1106px;top:23px" width="16" height="16" viewBox="0 0 16 16"><path d="M11.9 8.6A4.2 4.2 0 1 1 10.3 4.3" fill="none" stroke="#2633a8" stroke-width="1.45"/><path d="M8.6 5.9H12.6V1.9Z" fill="#2633a8"/></svg>
<svg class="a" style="left:1147px;top:28px" width="7" height="5" viewBox="0 0 7 5"><path d="M0 0H6.6L3.3 4.2Z" fill="#2633a8"/></svg>
</div>
<div class="tr" style="top:549px">
<div class="td lnk" style="left:13px">2025-04-21, 13:11:09</div>
<div class="badge bf" style="left:220px;width:71px"><svg class="a" style="left:10px;top:6px" width="12" height="12" viewBox="0 0 12 12" fill="none" stroke="#fff" stroke-width="1.5"><path d="M2 2l8 8M10 2l-8 8"/></svg><span class="a" style="left:26px;letter-spacing:0.15px">failed</span></div>
<svg class="a" style="left:361px;top:26px" width="8" height="9" viewBox="0 0 8 9"><path d="M0.5 0.5L7.5 4.5L0.5 8.5Z" fill="#18181b"/></svg>
<div class="td" style="left:379px">manual</div>
<div class="td" style="left:462px;letter-spacing:0.9px">2025-04-21, 13:11:11</div>
<div class="td" style="left:658px;letter-spacing:0.9px">2025-04-21, 13:11:17</div>
<div class="td" style="left:855px;letter-spacing:0.6px">6.38</div>
<div class="td" style="left:946px">v1</div>
<svg class="a" style="left:1106px;top:23px" width="16" height="16" viewBox="0 0 16 16"><path d="M11.9 8.6A4.2 4.2 0 1 1 10.3 4.3" fill="none" stroke="#2633a8" stroke-width="1.45"/><path d="M8.6 5.9H12.6V1.9Z" fill="#2633a8"/></svg>
<svg class="a" style="left:1147px;top:28px" width="7" height="5" viewBox="0 0 7 5"><path d="M0 0H6.6L3.3 4.2Z" fill="#2633a8"/></svg>
</div>
<div class="tr g" style="top:610px">
<div class="td lnk" style="left:13px">2025-04-21, 13:10:59</div>
<div class="badge bs" style="left:220px;width:88px"><svg class="a" style="left:9px;top:6px" width="12" height="12" viewBox="0 0 12 12" fill="none" stroke="#fff" stroke-width="1.3" stroke-linecap="round" stroke-linejoin="round"><path d="M1.2 5.8L4.5 9.4L10.8 2.4"/></svg><span class="a" style="left:27px;letter-spacing:0.15px">success</span></div>
<svg class="a" style="left:361px;top:26px" width="8" height="9" viewBox="0 0 8 9"><path d="M0.5 0.5L7.5 4.5L0.5 8.5Z" fill="#18181b"/></svg>
<div class="td" style="left:379px">manual</div>
<div class="td" style="left:462px;letter-spacing:0.9px">2025-04-21, 13:11:01</div>
<div class="td" style="left:658px;letter-spacing:0.9px">2025-04-21, 13:11:09</div>
<div class="td" style="left:855px;letter-spacing:0.6px">7.32</div>
<div class="td" style="left:946px">v1</div>
<svg class="a" style="left:1106px;top:23px" width="16" height="16" viewBox="0 0 16 16"><path d="M11.9 8.6A4.2 4.2 0 1 1 10.3 4.3" fill="none" stroke="#2633a8" stroke-width="1.45"/><path d="M8.6 5.9H12.6V1.9Z" fill="#2633a8"/></svg>
<svg class="a" style="left:1147px;top:28px" width="7" height="5" viewBox="0 0 7 5"><path d="M0 0H6.6L3.3 4.2Z" fill="#2633a8"/></svg>
</div>
<div class="tr" style="top:671px">
<div class="td lnk" style="left:13px">2025-04-21, 13:10:57</div>
<div class="badge bf" style="left:220px;width:71px"><svg class="a" style="left:10px;top:6px" width="12" height="12" viewBox="0 0 12 12" fill="none" stroke="#fff" stroke-width="1.5"><path d="M2 2l8 8M10 2l-8 8"/></svg><span class="a" style="left:26px;letter-spacing:0.15px">failed</span></div>
<svg class="a" style="left:361px;top:26px" width="8" height="9" viewBox="0 0 8 9"><path d="M0.5 0.5L7.5 4.5L0.5 8.5Z" fill="#18181b"/></svg>
<div class="td" style="left:379px">manual</div>
<div class="td" style="left:462px;letter-spacing:0.9px">2025-04-21, 13:10:58</div>
<div class="td" style="left:658px;letter-spacing:0.9px">2025-04-21, 13:11:06</div>
<div class="td" style="left:855px;letter-spacing:0.6px">7.53</div>
<div class="td" style="left:946px">v1</div>
<svg class="a" style="left:1106px;top:23px" width="16" height="16" viewBox="0 0 16 16"><path d="M11.9 8.6A4.2 4.2 0 1 1 10.3 4.3" fill="none" stroke="#2633a8" stroke-width="1.45"/><path d="M8.6 5.9H12.6V1.9Z" fill="#2633a8"/></svg>
<svg class="a" style="left:1147px;top:28px" width="7" height="5" viewBox="0 0 7 5"><path d="M0 0H6.6L3.3 4.2Z" fill="#2633a8"/></svg>
</div>
<div class="tr g" style="top:732px">
<div class="td lnk" style="left:13px">2025-04-21, 13:10:56</div>
<div class="badge bf" style="left:220px;width:71px"><svg class="a" style="left:10px;top:6px" width="12" height="12" viewBox="0 0 12 12" fill="none" stroke="#fff" stroke-width="1.5"><path d="M2 2l8 8M10 2l-8 8"/></svg><span class="a" style="left:26px;letter-spacing:0.15px">failed</span></div>
<svg class="a" style="left:361px;top:26px" width="8" height="9" viewBox="0 0 8 9"><path d="M0.5 0.5L7.5 4.5L0.5 8.5Z" fill="#18181b"/></svg>
<div class="td" style="left:379px">manual</div>
<div class="td" style="left:462px;letter-spacing:0.9px">2025-04-21, 13:10:57</div>
<div class="td" style="left:658px;letter-spacing:0.9px">2025-04-21, 13:11:03</div>
<div class="td" style="left:855px;letter-spacing:0.6px">5.81</div>
<div class="td" style="left:946px">v1</div>
<svg class="a" style="left:1106px;top:23px" width="16" height="16" viewBox="0 0 16 16"><path d="M11.9 8.6A4.2 4.2 0 1 1 10.3 4.3" fill="none" stroke="#2633a8" stroke-width="1.45"/><path d="M8.6 5.9H12.6V1.9Z" fill="#2633a8"/></svg>
<svg class="a" style="left:1147px;top:28px" width="7" height="5" viewBox="0 0 7 5"><path d="M0 0H6.6L3.3 4.2Z" fill="#2633a8"/></svg>
</div>
<div class="tr" style="top:793px">
<div class="td lnk" style="left:13px">2025-04-21, 13:10:53</div>
<div class="badge bf" style="left:220px;width:71px"><svg class="a" style="left:10px;top:6px" width="12" height="12" viewBox="0 0 12 12" fill="none" stroke="#fff" stroke-width="1.5"><path d="M2 2l8 8M10 2l-8 8"/></svg><span class="a" style="left:26px;letter-spacing:0.15px">failed</span></div>
<svg class="a" style="left:361px;top:26px" width="8" height="9" viewBox="0 0 8 9"><path d="M0.5 0.5L7.5 4.5L0.5 8.5Z" fill="#18181b"/></svg>
<div class="td" style="left:379px">manual</div>
<div class="td" style="left:462px;letter-spacing:0.9px">2025-04-21, 13:10:54</div>
<div class="td" style="left:658px;letter-spacing:0.9px">2025-04-21, 13:11:01</div>
<div class="td" style="left:855px;letter-spacing:0.6px">7.31</div>
<div class="td" style="left:946px">v1</div>
<svg class="a" style="left:1106px;top:23px" width="16" height="16" viewBox="0 0 16 16"><path d="M11.9 8.6A4.2 4.2 0 1 1 10.3 4.3" fill="none" stroke="#2633a8" stroke-width="1.45"/><path d="M8.6 5.9H12.6V1.9Z" fill="#2633a8"/></svg>
<svg class="a" style="left:1147px;top:28px" width="7" height="5" viewBox="0 0 7 5"><path d="M0 0H6.6L3.3 4.2Z" fill="#2633a8"/></svg>
</div>
<div class="tr g" style="top:854px">
<div class="td lnk" style="left:13px">2025-04-21, 13:10:52</div>
<div class="badge bs" style="left:220px;width:88px"><svg class="a" style="left:9px;top:6px" width="12" height="12" viewBox="0 0 12 12" fill="none" stroke="#fff" stroke-width="1.3" stroke-linecap="round" stroke-linejoin="round"><path d="M1.2 5.8L4.5 9.4L10.8 2.4"/></svg><span class="a" style="left:27px;letter-spacing:0.15px">success</span></div>
<svg class="a" style="left:361px;top:26px" width="8" height="9" viewBox="0 0 8 9"><path d="M0.5 0.5L7.5 4.5L0.5 8.5Z" fill="#18181b"/></svg>
<div class="td" style="left:379px">manual</div>
<div class="td" style="left:462px;letter-spacing:0.9px">2025-04-21, 13:10:53</div>
<div class="td" style="left:658px;letter-spacing:0.9px">2025-04-21, 13:11:03</div>
<div class="td" style="left:855px;letter-spacing:0.6px">9.81</div>
<div class="td" style="left:946px">v1</div>
<svg class="a" style="left:1106px;top:23px" width="16" height="16" viewBox="0 0 16 16"><path d="M11.9 8.6A4.2 4.2 0 1 1 10.3 4.3" fill="none" stroke="#2633a8" stroke-width="1.45"/><path d="M8.6 5.9H12.6V1.9Z" fill="#2633a8"/></svg>
<svg class="a" style="left:1147px;top:28px" width="7" height="5" viewBox="0 0 7 5"><path d="M0 0H6.6L3.3 4.2Z" fill="#2633a8"/></svg>
</div>
<div class="tr" style="top:915px">
<div class="td lnk" style="left:13px">2025-04-21, 13:10:49</div>
<div class="badge bf" style="left:220px;width:71px"><svg class="a" style="left:10px;top:6px" width="12" height="12" viewBox="0 0 12 12" fill="none" stroke="#fff" stroke-width="1.5"><path d="M2 2l8 8M10 2l-8 8"/></svg><span class="a" style="left:26px;letter-spacing:0.15px">failed</span></div>
<svg class="a" style="left:361px;top:26px" width="8" height="9" viewBox="0 0 8 9"><path d="M0.5 0.5L7.5 4.5L0.5 8.5Z" fill="#18181b"/></svg>
<div class="td" style="left:379px">manual</div>
<div class="td" style="left:462px;letter-spacing:0.9px">2025-04-21, 13:10:52</div>
<div class="td" style="left:658px;letter-spacing:0.9px">2025-04-21, 13:10:58</div>
<div class="td" style="left:855px;letter-spacing:0.6px">6.66</div>
<div class="td" style="left:946px">v1</div>
<svg class="a" style="left:1106px;top:23px" width="16" height="16" viewBox="0 0 16 16"><path d="M11.9 8.6A4.2 4.2 0 1 1 10.3 4.3" fill="none" stroke="#2633a8" stroke-width="1.45"/><path d="M8.6 5.9H12.6V1.9Z" fill="#2633a8"/></svg>
<svg class="a" style="left:1147px;top:28px" width="7" height="5" viewBox="0 0 7 5"><path d="M0 0H6.6L3.3 4.2Z" fill="#2633a8"/></svg>
</div>
<div class="tr g" style="top:976px">
<div class="td lnk" style="left:13px">2025-04-21, 13:10:47</div>
<div class="badge bf" style="left:220px;width:71px"><svg class="a" style="left:10px;top:6px" width="12" height="12" viewBox="0 0 12 12" fill="none" stroke="#fff" stroke-width="1.5"><path d="M2 2l8 8M10 2l-8 8"/></svg><span class="a" style="left:26px;letter-spacing:0.15px">failed</span></div>
<svg class="a" style="left:361px;top:26px" width="8" height="9" viewBox="0 0 8 9"><path d="M0.5 0.5L7.5 4.5L0.5 8.5Z" fill="#18181b"/></svg>
<div class="td" style="left:379px">manual</div>
<div class="td" style="left:462px;letter-spacing:0.9px">2025-04-21, 13:10:48</div>
<div class="td" style="left:658px;letter-spacing:0.9px">2025-04-21, 13:10:55</div>
<div class="td" style="left:855px;letter-spacing:0.6px">6.97</div>
<div class="td" style="left:946px">v1</div>
<svg class="a" style="left:1106px;top:23px" width="16" height="16" viewBox="0 0 16 16"><path d="M11.9 8.6A4.2 4.2 0 1 1 10.3 4.3" fill="none" stroke="#2633a8" stroke-width="1.45"/><path d="M8.6 5.9H12.6V1.9Z" fill="#2633a8"/></svg>
<svg class="a" style="left:1147px;top:28px" width="7" height="5" viewBox="0 0 7 5"><path d="M0 0H6.6L3.3 4.2Z" fill="#2633a8"/></svg>
</div>
<div class="tr" style="top:1037px">
<div class="td lnk" style="left:13px">2025-04-21, 13:10:45</div>
<div class="badge bf" style="left:220px;width:71px"><svg class="a" style="left:10px;top:6px" width="12" height="12" viewBox="0 0 12 12" fill="none" stroke="#fff" stroke-width="1.5"><path d="M2 2l8 8M10 2l-8 8"/></svg><span class="a" style="left:26px;letter-spacing:0.15px">failed</span></div>
<svg class="a" style="left:361px;top:26px" width="8" height="9" viewBox="0 0 8 9"><path d="M0.5 0.5L7.5 4.5L0.5 8.5Z" fill="#18181b"/></svg>
<div class="td" style="left:379px">manual</div>
<div class="td" style="left:462px;letter-spacing:0.9px">2025-04-21, 13:10:47</div>
<div class="td" style="left:658px;letter-spacing:0.9px">2025-04-21, 13:10:54</div>
<div class="td" style="left:855px;letter-spacing:0.6px">6.78</div>
<div class="td" style="left:946px">v1</div>
<svg class="a" style="left:1106px;top:23px" width="16" height="16" viewBox="0 0 16 16"><path d="M11.9 8.6A4.2 4.2 0 1 1 10.3 4.3" fill="none" stroke="#2633a8" stroke-width="1.45"/><path d="M8.6 5.9H12.6V1.9Z" fill="#2633a8"/></svg>
<svg class="a" style="left:1147px;top:28px" width="7" height="5" viewBox="0 0 7 5"><path d="M0 0H6.6L3.3 4.2Z" fill="#2633a8"/></svg>
</div>
<div class="tr g" style="top:1098px">
<div class="td lnk" style="left:13px">2025-04-21, 13:10:43</div>
<div class="badge bs" style="left:220px;width:88px"><svg class="a" style="left:9px;top:6px" width="12" height="12" viewBox="0 0 12 12" fill="none" stroke="#fff" stroke-width="1.3" stroke-linecap="round" stroke-linejoin="round"><path d="M1.2 5.8L4.5 9.4L10.8 2.4"/></svg><span class="a" style="left:27px;letter-spacing:0.15px">success</span></div>
<svg class="a" style="left:361px;top:26px" width="8" height="9" viewBox="0 0 8 9"><path d="M0.5 0.5L7.5 4.5L0.5 8.5Z" fill="#18181b"/></svg>
<div class="td" style="left:379px">manual</div>
<div class="td" style="left:462px;letter-spacing:0.9px">2025-04-21, 13:10:44</div>
<div class="td" style="left:658px;letter-spacing:0.9px">2025-04-21, 13:10:54</div>
<div class="td" style="left:855px;letter-spacing:0.6px">9.99</div>
<div class="td" style="left:946px">v1</div>
<svg class="a" style="left:1106px;top:23px" width="16" height="16" viewBox="0 0 16 16"><path d="M11.9 8.6A4.2 4.2 0 1 1 10.3 4.3" fill="none" stroke="#2633a8" stroke-width="1.45"/><path d="M8.6 5.9H12.6V1.9Z" fill="#2633a8"/></svg>
<svg class="a" style="left:1147px;top:28px" width="7" height="5" viewBox="0 0 7 5"><path d="M0 0H6.6L3.3 4.2Z" fill="#2633a8"/></svg>
</div>
<div class="tr" style="top:1159px">
<div class="td lnk" style="left:13px">2025-04-21, 13:10:39</div>
<div class="badge bf" style="left:220px;width:71px"><svg class="a" style="left:10px;top:6px" width="12" height="12" viewBox="0 0 12 12" fill="none" stroke="#fff" stroke-width="1.5"><path d="M2 2l8 8M10 2l-8 8"/></svg><span class="a" style="left:26px;letter-spacing:0.15px">failed</span></div>
<svg class="a" style="left:361px;top:26px" width="8" height="9" viewBox="0 0 8 9"><path d="M0.5 0.5L7.5 4.5L0.5 8.5Z" fill="#18181b"/></svg>
<div class="td" style="left:379px">manual</div>
<div class="td" style="left:462px;letter-spacing:0.9px">2025-04-21, 13:10:40</div>
<div class="td" style="left:658px;letter-spacing:0.9px">2025-04-21, 13:10:46</div>
<div class="td" style="left:855px;letter-spacing:0.6px">6.24</div>
<div class="td" style="left:946px">v1</div>
<svg class="a" style="left:1106px;top:23px" width="16" height="16" viewBox="0 0 16 16"><path d="M11.9 8.6A4.2 4.2 0 1 1 10.3 4.3" fill="none" stroke="#2633a8" stroke-width="1.45"/><path d="M8.6 5.9H12.6V1.9Z" fill="#2633a8"/></svg>
<svg class="a" style="left:1147px;top:28px" width="7" height="5" viewBox="0 0 7 5"><path d="M0 0H6.6L3.3 4.2Z" fill="#2633a8"/></svg>
</div>
<div class="topbar"></div><div class="a" style="left:858px;top:0;width:430px;height:1px;background:#f5f5f3"></div><div class="a" style="left:857px;top:0;width:1px;height:1px;background:#d0d0d0"></div><div class="topbar2"></div>
<div class="a" style="left:0;top:1210px;width:560px;height:34px;background:linear-gradient(to bottom,rgba(0,0,0,0),rgba(0,0,0,.075));-webkit-mask-image:linear-gradient(to right,#000 40%,transparent 88%);mask-image:linear-gradient(to right,#000 40%,transparent 88%)"></div>
<div class="a" style="left:1717px;top:0;width:1px;height:1244px;background:#a0a09c"></div><div class="a" style="left:1718px;top:0;width:1px;height:1244px;background:#1f201c"></div>
</body></html>
